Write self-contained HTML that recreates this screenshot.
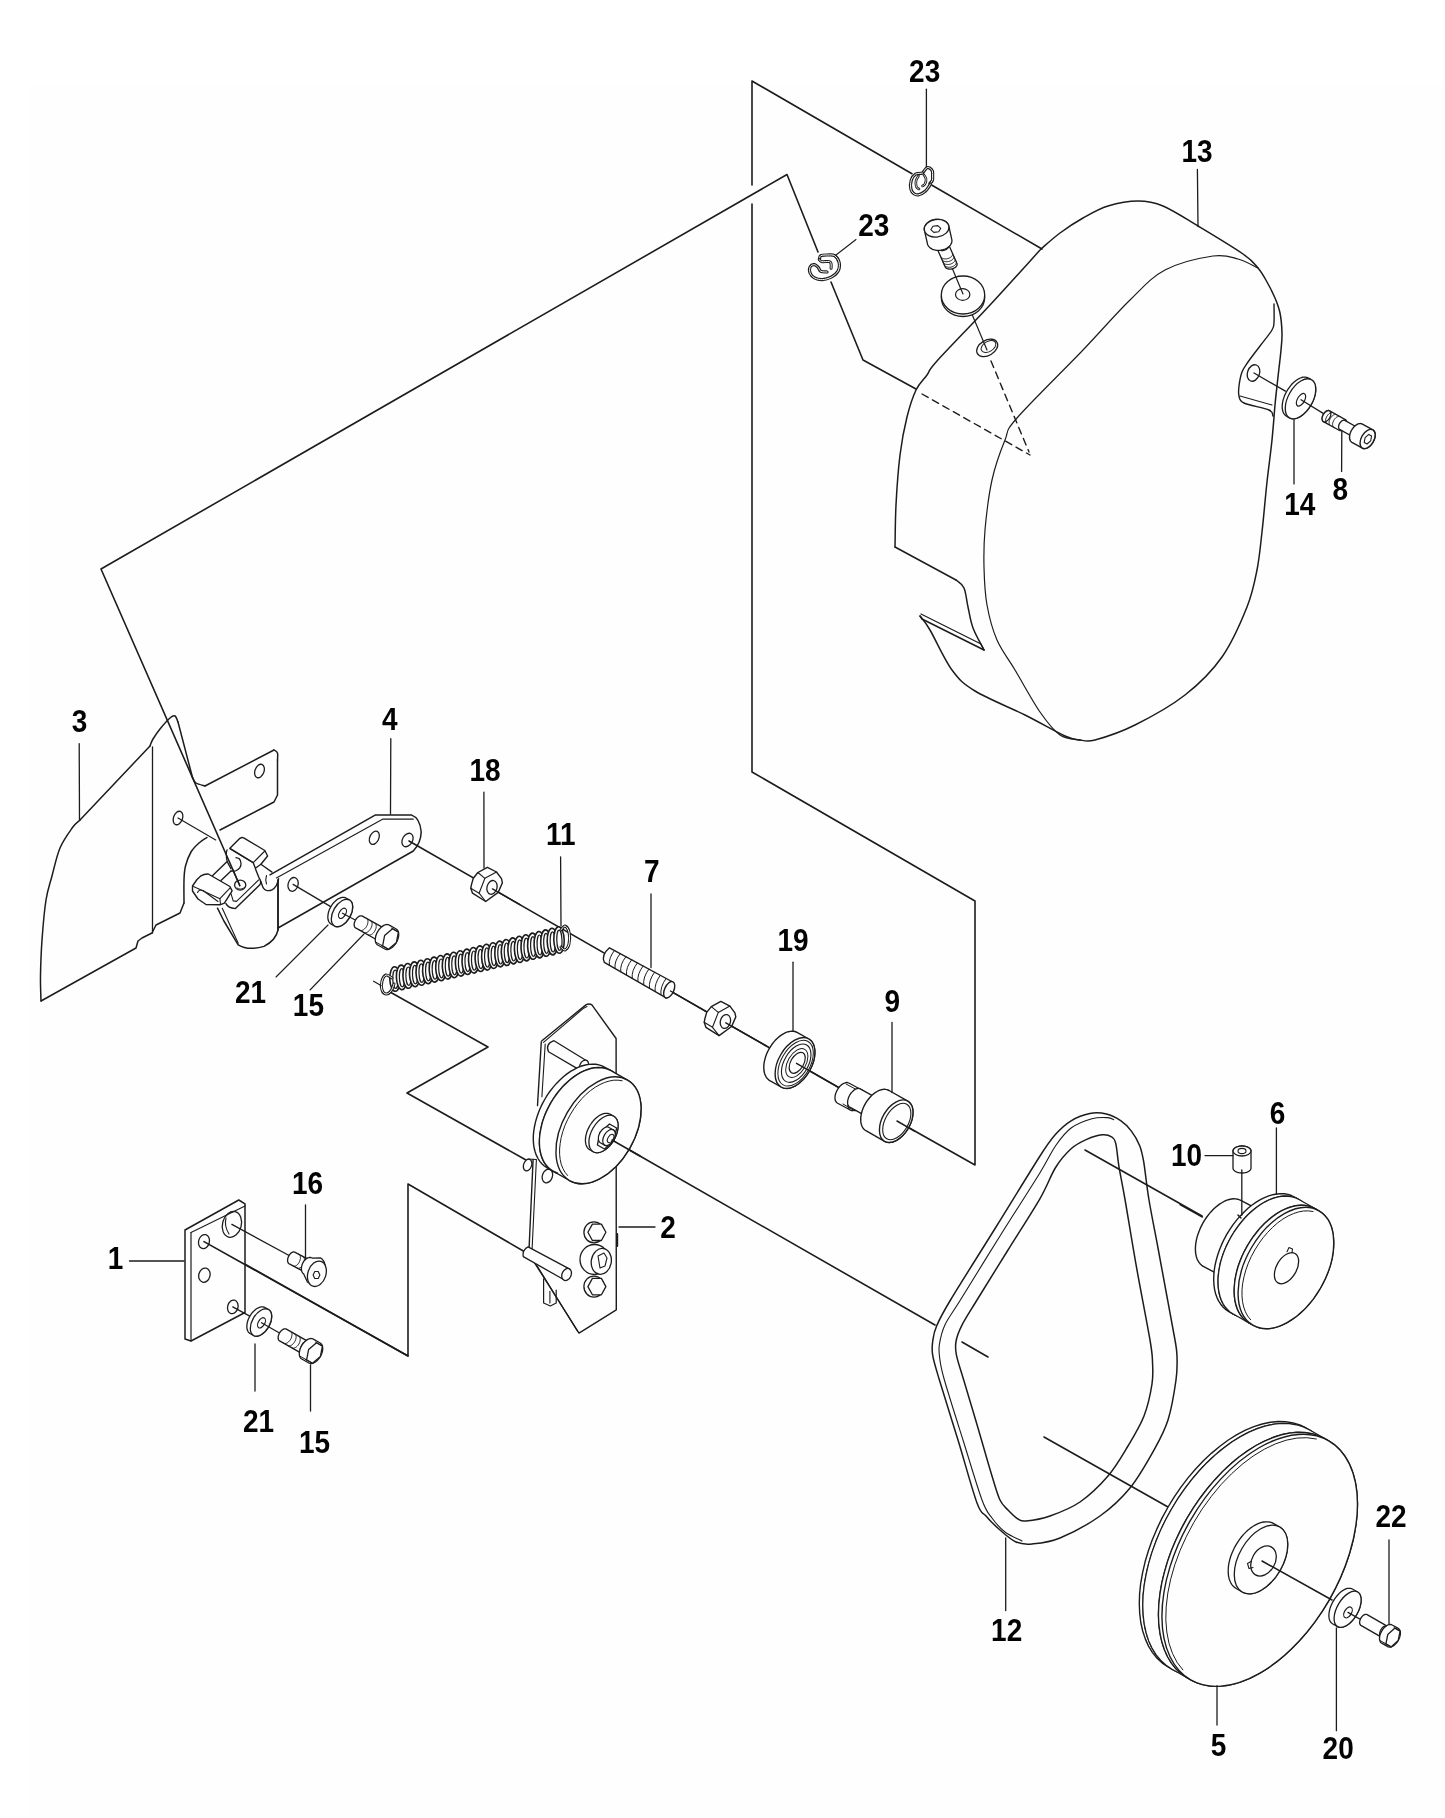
<!DOCTYPE html>
<html><head><meta charset="utf-8"><style>
html,body{margin:0;padding:0;background:#fff;}
svg{display:block}
</style></head><body>
<svg width="1445" height="1818" viewBox="0 0 1445 1818">
<rect x="0" y="0" width="1445" height="1818" fill="#ffffff"/>
<rect x="30" y="85" width="1415" height="1733" fill="#fefefe"/>
<g fill="none" stroke="#1c1c1c" stroke-linejoin="round" stroke-linecap="round">
<polyline points="1042,249 932,185.3" stroke-width="1.6" fill="none"/>
<polyline points="912,173.7 752,81 752,185" stroke-width="1.6" fill="none"/>
<polyline points="752,204 752,772 975,901 975,1165 897,1121" stroke-width="1.6" fill="none"/>
<polyline points="916,389 863,360 831,282" stroke-width="1.6" fill="none"/>
<polyline points="818,252 787,174.5 101,569 240,886" stroke-width="1.6" fill="none"/>
<polyline points="390,992 488,1047 407,1093 526,1160" stroke-width="1.6" fill="none"/>
<polyline points="525,1252 408,1184 408,1356 204,1241" stroke-width="1.6" fill="none"/>
<polyline points="612,1140 935,1325" stroke-width="1.6" fill="none"/>
<polyline points="962,1342 988,1357" stroke-width="1.6" fill="none"/>
<polyline points="1085,1150 1202,1216" stroke-width="1.6" fill="none"/>
<polyline points="1044,1437 1168,1507" stroke-width="1.6" fill="none"/>
<polyline points="409,841 897,1121" stroke-width="1.6" fill="none"/>
<path d="M1041,249 C1032.5,258.3 1007.3,286.3 990,305 C972.7,323.7 947.5,349.3 937,361 C926.5,372.7 930.5,370.2 927,375 C923.5,379.8 919.3,383 916,390 C912.7,397 909.7,406.2 907,417 C904.3,427.8 901.8,440.3 900,455 C898.2,469.7 896.8,489.7 896,505 C895.2,520.3 895.2,540 895,547" stroke-width="1.5" fill="none"/>
<polyline points="895,547 956,580" stroke-width="1.5" fill="none"/>
<path d="M956,580 C957.3,581.3 962,583.5 964,588 C966,592.5 966.5,600.3 968,607 C969.5,613.7 970.3,620.8 973,628 C975.7,635.2 982.2,646.3 984,650" stroke-width="1.5" fill="none"/>
<polyline points="984,650 922,619 920,616" stroke-width="1.5" fill="none"/>
<polyline points="921,614 981,644 984,650" stroke-width="1.2" fill="none"/>
<path d="M920,616 C921.7,618.3 924.7,621 930,630 C935.3,639 944.5,659.8 952,670 C959.5,680.2 962.8,683.5 975,691 C987.2,698.5 1010,707.5 1025,715 C1040,722.5 1055.8,731.8 1065,736 C1074.2,740.2 1077.5,739.3 1080,740" stroke-width="1.5" fill="none"/>
<path d="M1080,740 C1082.5,740 1085.8,742.5 1095,740 C1104.2,737.5 1120,732.5 1135,725 C1150,717.5 1170.5,706.3 1185,695 C1199.5,683.7 1211.7,671.7 1222,657 C1232.3,642.3 1241.2,621.5 1247,607 C1252.8,592.5 1254.5,582.5 1257,570 C1259.5,557.5 1260.3,546.7 1262,532 C1263.7,517.3 1265.3,497.3 1267,482 C1268.7,466.7 1270.7,452.8 1272,440 C1273.3,427.2 1274.2,414 1275,405 C1275.8,396 1276.3,392.2 1277,386 C1277.7,379.8 1278.3,374 1279,368 C1279.7,362 1280.5,355.8 1281,350 C1281.5,344.2 1282.2,339.2 1282,333 C1281.8,326.8 1281.2,318.8 1280,313 C1278.8,307.2 1277.2,303.2 1275,298 C1272.8,292.8 1269.8,287 1267,282 C1264.2,277 1262,272.7 1258,268 C1254,263.3 1253,261 1243,254 C1233,247 1211.3,234 1198,226 C1184.7,218 1173,210.2 1163,206 C1153,201.8 1147.2,201 1138,201 C1128.8,201 1117.2,203.2 1108,206 C1098.8,208.8 1091,213.5 1083,218 C1075,222.5 1067,227.8 1060,233 C1053,238.2 1044.2,246.3 1041,249" stroke-width="1.5" fill="none"/>
<path d="M1258,268 C1254.7,266.5 1245.5,261 1238,259 C1230.5,257 1225.2,254.2 1213,256 C1200.8,257.8 1178.8,262.7 1165,270 C1151.2,277.3 1143.7,286.7 1130,300 C1116.3,313.3 1101.8,330.3 1083,350 C1064.2,369.7 1030,403 1017,418 C1004,433 1009.2,429.7 1005,440 C1000.8,450.3 995.3,465 992,480 C988.7,495 986.3,515.5 985,530 C983.7,544.5 983.7,554.5 984,567 C984.3,579.5 984.8,592.8 987,605 C989.2,617.2 992.3,629.2 997,640 C1001.7,650.8 1007.8,658 1015,670 C1022.2,682 1032.5,701.2 1040,712 C1047.5,722.8 1053.3,730.3 1060,735 C1066.7,739.7 1076.7,739.2 1080,740" stroke-width="1.2" fill="none"/>
<path d="M1274,304 C1274,307 1274.3,317.7 1274,322 C1273.7,326.3 1274.3,326 1272,330 C1269.7,334 1264,340.7 1260,346 C1256,351.3 1251,357.7 1248,362 C1245,366.3 1243.5,368 1242,372 C1240.5,376 1239.5,382 1239,386 C1238.5,390 1238.2,393.2 1239,396 C1239.8,398.8 1239,400.7 1244,403 C1249,405.3 1264.2,407.8 1269,410 C1273.8,412.2 1272.3,415 1273,416" stroke-width="1.4" fill="none"/>
<polyline points="1240,396 1272,405" stroke-width="1.2" fill="none"/>
<ellipse cx="1253.5" cy="373" rx="6" ry="8.5" transform="rotate(20 1253.5 373)" stroke-width="1.3" fill="none" />
<line x1="922" y1="394" x2="1030" y2="455" stroke-width="1.4" stroke-dasharray="7 5"/>
<line x1="991" y1="361" x2="1029" y2="452" stroke-width="1.4" stroke-dasharray="7 5"/>
<ellipse cx="987.2" cy="347.9" rx="11.3" ry="7.6" transform="rotate(-30 987.2 347.9)" stroke-width="1.3" fill="#fefefe" />
<ellipse cx="988.5" cy="346.5" rx="8" ry="5" transform="rotate(-30 988.5 346.5)" stroke-width="1.0" fill="none" />
<polyline points="971.5,313 987,350" stroke-width="1.2" fill="none"/>
<ellipse cx="963" cy="297.5" rx="21.7" ry="19" stroke-width="1.3" fill="#fefefe" />
<ellipse cx="963" cy="295" rx="21.7" ry="19" stroke-width="1.3" fill="#fefefe" />
<ellipse cx="962.7" cy="294.5" rx="7.2" ry="5.8" stroke-width="1.2" fill="none" />
<polyline points="952.3,268.4 963,294" stroke-width="1.2" fill="none"/>
<polygon points="956.8,263.1 957,263.4 957.1,263.7 957.1,264.1 957.1,264.4 957.1,264.8 957,265.1 956.8,265.5 956.7,265.8 956.4,266.2 956.2,266.5 955.9,266.9 955.5,267.2 955.2,267.5 954.8,267.7 954.3,268 953.9,268.2 953.4,268.4 952.9,268.6 952.4,268.8 951.8,268.9 951.3,269 950.8,269.1 950.2,269.1 949.7,269.1 949.2,269.1 948.7,269 948.2,268.9 947.7,268.8 947.3,268.7 946.9,268.5 946.5,268.3 946.2,268.1 945.9,267.8 945.6,267.5 945.4,267.3 945.2,266.9 937,248.4 936.8,248.1 936.7,247.8 936.7,247.4 936.7,247.1 936.7,246.7 936.8,246.4 937,246 937.1,245.7 937.4,245.3 937.6,245 937.9,244.6 938.3,244.3 938.6,244 939,243.8 939.5,243.5 939.9,243.3 940.4,243.1 940.9,242.9 941.4,242.7 942,242.6 942.5,242.5 943,242.4 943.6,242.4 944.1,242.4 944.6,242.4 945.1,242.5 945.6,242.6 946.1,242.7 946.5,242.8 946.9,243 947.3,243.2 947.6,243.4 947.9,243.7 948.2,244 948.4,244.2 948.6,244.6" stroke-width="1.3" fill="#fefefe"/>
<ellipse cx="942.8" cy="246.5" rx="6.2" ry="4" transform="rotate(-12 942.8 246.5)" stroke-width="1.3" fill="#fefefe" />
<polyline points="952.6,253.5 952.6,254.1 952.6,254.6 952.4,255.1 952.2,255.7 951.8,256.2 951.4,256.7 950.8,257.1 950.2,257.6 949.6,257.9 948.9,258.3 948.1,258.5 947.3,258.7 946.5,258.9 945.7,258.9 944.9,258.9 944.2,258.9 943.5,258.7 942.8,258.5 942.2,258.2 941.7,257.9 941.2,257.5 940.8,257.1 940.6,256.6 940.4,256.1" stroke-width="1.0" fill="none"/>
<polyline points="953.8,256.3 953.8,256.8 953.8,257.4 953.6,257.9 953.4,258.4 953,259 952.6,259.5 952.1,259.9 951.5,260.3 950.8,260.7 950.1,261 949.3,261.3 948.6,261.5 947.8,261.6 947,261.7 946.2,261.7 945.4,261.6 944.7,261.5 944,261.3 943.4,261 942.9,260.7 942.4,260.3 942.1,259.9 941.8,259.4 941.7,258.9" stroke-width="1.0" fill="none"/>
<polyline points="955,259.1 955.1,259.6 955,260.1 954.9,260.7 954.6,261.2 954.3,261.7 953.8,262.2 953.3,262.7 952.7,263.1 952,263.5 951.3,263.8 950.6,264.1 949.8,264.3 949,264.4 948.2,264.5 947.4,264.5 946.6,264.4 945.9,264.3 945.2,264.1 944.6,263.8 944.1,263.4 943.7,263.1 943.3,262.6 943,262.2 942.9,261.7" stroke-width="1.0" fill="none"/>
<polyline points="956.2,261.9 956.3,262.4 956.3,262.9 956.1,263.5 955.8,264 955.5,264.5 955.1,265 954.5,265.5 953.9,265.9 953.3,266.3 952.6,266.6 951.8,266.9 951,267.1 950.2,267.2 949.4,267.3 948.6,267.3 947.9,267.2 947.1,267 946.5,266.8 945.9,266.6 945.3,266.2 944.9,265.8 944.5,265.4 944.3,264.9 944.1,264.4" stroke-width="1.0" fill="none"/>
<polygon points="951.7,239 951.9,239.8 951.9,240.5 951.9,241.3 951.8,242.1 951.6,242.9 951.2,243.6 950.8,244.4 950.4,245.1 949.8,245.8 949.1,246.4 948.4,247.1 947.6,247.6 946.8,248.2 945.9,248.7 945,249.1 944,249.5 942.9,249.8 941.9,250 940.8,250.2 939.7,250.3 938.7,250.4 937.6,250.4 936.6,250.3 935.5,250.1 934.5,249.9 933.6,249.6 932.6,249.3 931.8,248.9 931,248.4 930.2,247.9 929.6,247.4 929,246.7 928.5,246.1 928.1,245.4 927.7,244.7 927.5,244 924.5,230.7 924.3,229.9 924.3,229.2 924.3,228.4 924.4,227.6 924.6,226.8 925,226.1 925.4,225.3 925.8,224.6 926.4,223.9 927.1,223.3 927.8,222.6 928.6,222.1 929.4,221.5 930.3,221 931.2,220.6 932.2,220.2 933.3,219.9 934.3,219.7 935.4,219.5 936.5,219.4 937.5,219.3 938.6,219.3 939.6,219.4 940.7,219.6 941.7,219.8 942.6,220.1 943.6,220.4 944.4,220.8 945.2,221.3 946,221.8 946.6,222.3 947.2,223 947.7,223.6 948.1,224.3 948.5,225 948.7,225.7" stroke-width="1.3" fill="#fefefe"/>
<ellipse cx="936.6" cy="228.2" rx="12.4" ry="8.8" transform="rotate(-8 936.6 228.2)" stroke-width="1.3" fill="#fefefe" />
<polygon points="940.8,228.3 938.7,231.7 933.8,232.4 930.8,229.7 932.9,226.3 937.8,225.6" stroke-width="1.1" fill="#fefefe"/>
<path d="M923,172.6 C923.6,171.8 925.4,168.8 926.5,168 C927.6,167.2 928.6,167.5 929.6,168 C930.6,168.5 931.9,169.8 932.4,171.1 C932.9,172.4 932.6,174.4 932.6,176 C932.6,177.6 932.9,179.2 932.4,180.4 C931.9,181.7 930.3,183 929.9,183.5" stroke-width="3.2" fill="none"/>
<path d="M923,172.6 C923.6,171.8 925.4,168.8 926.5,168 C927.6,167.2 928.6,167.5 929.6,168 C930.6,168.5 931.9,169.8 932.4,171.1 C932.9,172.4 932.6,174.4 932.6,176 C932.6,177.6 932.9,179.2 932.4,180.4 C931.9,181.7 930.3,183 929.9,183.5" stroke-width="1.0" stroke="#fefefe" fill="none"/>
<path d="M922.5,173.2 C921.4,173.4 917.5,173 915.6,174.2 C913.7,175.4 912,177.9 911.2,180.4 C910.4,182.9 910.4,187 910.9,189.2 C911.4,191.4 912.7,192.9 914,193.8 C915.3,194.7 916.9,195.2 918.7,194.8 C920.5,194.4 923.1,193.1 924.9,191.6 C926.7,190.1 928.4,187.3 929.3,186 C930.2,184.7 930.3,184.3 930.5,184" stroke-width="3.2" fill="none"/>
<path d="M922.5,173.2 C921.4,173.4 917.5,173 915.6,174.2 C913.7,175.4 912,177.9 911.2,180.4 C910.4,182.9 910.4,187 910.9,189.2 C911.4,191.4 912.7,192.9 914,193.8 C915.3,194.7 916.9,195.2 918.7,194.8 C920.5,194.4 923.1,193.1 924.9,191.6 C926.7,190.1 928.4,187.3 929.3,186 C930.2,184.7 930.3,184.3 930.5,184" stroke-width="1.0" stroke="#fefefe" fill="none"/>
<path d="M918.5,176 C918.1,176.8 916.3,179.2 916,181 C915.7,182.8 916,185.7 916.5,187 C917,188.3 918.6,188.7 919,189" stroke-width="2.6" fill="none"/>
<path d="M918.5,176 C918.1,176.8 916.3,179.2 916,181 C915.7,182.8 916,185.7 916.5,187 C917,188.3 918.6,188.7 919,189" stroke-width="0.8" stroke="#fefefe" fill="none"/>
<path d="M924,175 C924.3,175.7 925.8,177.5 926,179 C926.2,180.5 925.6,182.8 925,184 C924.4,185.2 922.9,185.7 922.5,186" stroke-width="2.6" fill="none"/>
<path d="M924,175 C924.3,175.7 925.8,177.5 926,179 C926.2,180.5 925.6,182.8 925,184 C924.4,185.2 922.9,185.7 922.5,186" stroke-width="0.8" stroke="#fefefe" fill="none"/>
<path d="M819.4,259.5 C819.6,258.9 819.4,256.4 820.8,255.7 C822.2,254.9 825.4,255 827.7,255 C830,255 832.7,254.5 834.6,255.7 C836.5,256.9 838.5,259.8 839.1,262.3 C839.7,264.9 839.4,268.5 838.1,271 C836.8,273.5 833.7,275.8 831.1,277.2 C828.5,278.6 825.3,279.5 822.5,279.6 C819.7,279.7 816.6,279 814.5,277.9 C812.4,276.8 810.7,274.6 810,272.7 C809.3,270.8 809.6,267.8 810.4,266.5 C811.1,265.2 813.2,264.5 814.5,264.7 C815.8,264.9 817.2,266.4 818.3,267.5 C819.3,268.6 819.3,270.6 820.8,271.3 C822.2,272.1 826,271.9 827,272" stroke-width="3.2" fill="none"/>
<path d="M819.4,259.5 C819.6,258.9 819.4,256.4 820.8,255.7 C822.2,254.9 825.4,255 827.7,255 C830,255 832.7,254.5 834.6,255.7 C836.5,256.9 838.5,259.8 839.1,262.3 C839.7,264.9 839.4,268.5 838.1,271 C836.8,273.5 833.7,275.8 831.1,277.2 C828.5,278.6 825.3,279.5 822.5,279.6 C819.7,279.7 816.6,279 814.5,277.9 C812.4,276.8 810.7,274.6 810,272.7 C809.3,270.8 809.6,267.8 810.4,266.5 C811.1,265.2 813.2,264.5 814.5,264.7 C815.8,264.9 817.2,266.4 818.3,267.5 C819.3,268.6 819.3,270.6 820.8,271.3 C822.2,272.1 826,271.9 827,272" stroke-width="1.0" stroke="#fefefe" fill="none"/>
<path d="M819.4,259.5 C819.8,259.9 819.8,261.2 821.5,261.6 C823.2,262 827.8,261.2 829.4,261.6 C831,262 830.8,262.9 831.1,264 C831.4,265.1 831.1,267.5 831.1,268.2" stroke-width="3.0" fill="none"/>
<path d="M819.4,259.5 C819.8,259.9 819.8,261.2 821.5,261.6 C823.2,262 827.8,261.2 829.4,261.6 C831,262 830.8,262.9 831.1,264 C831.4,265.1 831.1,267.5 831.1,268.2" stroke-width="1.0" stroke="#fefefe" fill="none"/>
<polygon points="1286.5,416.1 1285.6,415.5 1284.8,414.8 1284.1,413.9 1283.5,412.9 1283,411.8 1282.6,410.5 1282.4,409.2 1282.2,407.8 1282.2,406.2 1282.3,404.7 1282.5,403 1282.8,401.3 1283.2,399.6 1283.8,397.9 1284.4,396.1 1285.1,394.4 1286,392.7 1286.9,391 1287.9,389.3 1289,387.8 1290.1,386.3 1291.3,384.8 1292.5,383.5 1293.8,382.3 1295.1,381.2 1296.4,380.2 1297.8,379.3 1299.1,378.6 1300.4,378 1301.7,377.5 1303,377.2 1304.2,377.1 1305.3,377.1 1306.5,377.3 1307.5,377.6 1308.5,378 1311.5,379.7 1312.4,380.4 1313.2,381.1 1313.9,382 1314.5,383 1314.9,384.1 1315.3,385.4 1315.6,386.7 1315.7,388.1 1315.7,389.6 1315.7,391.2 1315.5,392.9 1315.2,394.6 1314.7,396.3 1314.2,398 1313.6,399.8 1312.8,401.5 1312,403.2 1311.1,404.9 1310.1,406.5 1309,408.1 1307.9,409.6 1306.7,411 1305.4,412.4 1304.2,413.6 1302.8,414.7 1301.5,415.7 1300.2,416.6 1298.9,417.3 1297.5,417.9 1296.3,418.4 1295,418.6 1293.8,418.8 1292.6,418.8 1291.5,418.6 1290.5,418.3 1289.5,417.9" stroke-width="1.3" fill="#fefefe"/>
<ellipse cx="1300.5" cy="398.8" rx="12.2" ry="22" transform="rotate(30 1300.5 398.8)" stroke-width="1.3" fill="#fefefe" />
<ellipse cx="1301" cy="399.8" rx="3.6" ry="7" transform="rotate(30 1301 399.8)" stroke-width="1.2" fill="none" />
<polyline points="1254,373 1285.4,391.1" stroke-width="1.3" fill="none"/>
<polyline points="1301,399.8 1324.8,414.4" stroke-width="1.3" fill="none"/>
<polygon points="1323.4,421.6 1323.1,421.4 1322.9,421.2 1322.7,420.9 1322.5,420.6 1322.4,420.3 1322.3,419.9 1322.2,419.6 1322.1,419.2 1322.1,418.7 1322.1,418.3 1322.2,417.8 1322.2,417.3 1322.4,416.8 1322.5,416.3 1322.7,415.9 1322.9,415.4 1323.1,414.9 1323.4,414.4 1323.7,413.9 1324,413.5 1324.3,413.1 1324.6,412.7 1325,412.3 1325.3,412 1325.7,411.6 1326.1,411.4 1326.5,411.1 1326.9,410.9 1327.3,410.8 1327.6,410.7 1328,410.6 1328.3,410.5 1328.7,410.5 1329,410.6 1329.3,410.7 1329.6,410.8 1345.3,419.6 1345.6,419.7 1345.8,420 1346,420.2 1346.2,420.5 1346.4,420.8 1346.5,421.2 1346.6,421.6 1346.6,422 1346.6,422.4 1346.6,422.9 1346.6,423.3 1346.5,423.8 1346.4,424.3 1346.2,424.8 1346.1,425.3 1345.9,425.8 1345.6,426.3 1345.4,426.7 1345.1,427.2 1344.8,427.6 1344.5,428.1 1344.1,428.5 1343.8,428.8 1343.4,429.2 1343,429.5 1342.6,429.8 1342.3,430 1341.9,430.2 1341.5,430.4 1341.1,430.5 1340.8,430.6 1340.4,430.6 1340.1,430.6 1339.7,430.5 1339.4,430.4 1339.1,430.3" stroke-width="1.3" fill="#fefefe"/>
<ellipse cx="1326.5" cy="416.2" rx="3.6" ry="6.2" transform="rotate(30 1326.5 416.2)" stroke-width="1.3" fill="#fefefe" />
<polyline points="1326.9,423.5 1326.5,423.2 1326.2,422.9 1325.9,422.4 1325.8,421.9 1325.6,421.3 1325.6,420.7 1325.6,420 1325.7,419.3 1325.9,418.5 1326.2,417.8 1326.5,417.1 1326.9,416.3 1327.3,415.7 1327.8,415 1328.3,414.4 1328.8,413.9 1329.4,413.4 1330,413.1 1330.6,412.8 1331.1,412.6 1331.7,412.5 1332.2,412.5 1332.7,412.6 1333.1,412.8" stroke-width="1.0" fill="none"/>
<polyline points="1330.4,425.4 1330,425.2 1329.7,424.8 1329.4,424.4 1329.3,423.8 1329.1,423.2 1329.1,422.6 1329.1,421.9 1329.2,421.2 1329.4,420.5 1329.7,419.7 1330,419 1330.4,418.3 1330.8,417.6 1331.3,417 1331.8,416.4 1332.3,415.8 1332.9,415.4 1333.5,415 1334.1,414.7 1334.6,414.5 1335.2,414.4 1335.7,414.4 1336.2,414.5 1336.6,414.7" stroke-width="1.0" fill="none"/>
<polyline points="1333.9,427.4 1333.5,427.1 1333.2,426.7 1332.9,426.3 1332.8,425.8 1332.6,425.2 1332.6,424.5 1332.6,423.9 1332.7,423.1 1332.9,422.4 1333.2,421.7 1333.5,420.9 1333.9,420.2 1334.3,419.5 1334.8,418.9 1335.3,418.3 1335.8,417.8 1336.4,417.3 1337,416.9 1337.6,416.7 1338.1,416.5 1338.7,416.4 1339.2,416.4 1339.7,416.5 1340.1,416.6" stroke-width="1.0" fill="none"/>
<polygon points="1339.6,429.4 1339.4,429.3 1339.2,429.1 1339.1,428.9 1338.9,428.6 1338.8,428.4 1338.7,428.1 1338.6,427.8 1338.6,427.4 1338.6,427.1 1338.6,426.7 1338.6,426.3 1338.7,425.9 1338.8,425.5 1338.9,425.1 1339.1,424.6 1339.2,424.2 1339.4,423.8 1339.6,423.4 1339.9,423 1340.1,422.7 1340.4,422.3 1340.7,422 1341,421.7 1341.3,421.4 1341.6,421.1 1341.9,420.9 1342.2,420.7 1342.6,420.5 1342.9,420.4 1343.2,420.3 1343.5,420.2 1343.8,420.2 1344.1,420.2 1344.4,420.2 1344.6,420.3 1344.8,420.4 1359.7,428.7 1359.9,428.8 1360.1,429 1360.3,429.2 1360.4,429.4 1360.6,429.7 1360.7,430 1360.7,430.3 1360.8,430.7 1360.8,431 1360.8,431.4 1360.7,431.8 1360.7,432.2 1360.6,432.6 1360.4,433 1360.3,433.5 1360.1,433.9 1359.9,434.3 1359.7,434.7 1359.5,435.1 1359.2,435.4 1358.9,435.8 1358.7,436.1 1358.4,436.4 1358.1,436.7 1357.7,437 1357.4,437.2 1357.1,437.4 1356.8,437.6 1356.5,437.7 1356.2,437.8 1355.9,437.9 1355.6,437.9 1355.3,437.9 1355,437.9 1354.7,437.8 1354.5,437.7" stroke-width="1.3" fill="#fefefe"/>
<polygon points="1351.9,442.3 1351.4,442 1351,441.6 1350.6,441.1 1350.3,440.6 1350,440.1 1349.8,439.5 1349.7,438.8 1349.6,438.1 1349.5,437.4 1349.6,436.6 1349.6,435.8 1349.8,435 1349.9,434.2 1350.2,433.3 1350.5,432.5 1350.8,431.6 1351.2,430.8 1351.7,430 1352.1,429.2 1352.7,428.5 1353.2,427.8 1353.8,427.1 1354.4,426.5 1355,425.9 1355.7,425.4 1356.3,424.9 1357,424.5 1357.6,424.2 1358.3,423.9 1358.9,423.7 1359.6,423.6 1360.2,423.5 1360.8,423.6 1361.3,423.7 1361.9,423.8 1362.4,424.1 1372.9,429.9 1373.3,430.2 1373.7,430.6 1374.1,431 1374.4,431.5 1374.7,432.1 1374.9,432.7 1375,433.3 1375.1,434 1375.2,434.8 1375.2,435.6 1375.1,436.4 1375,437.2 1374.8,438 1374.5,438.8 1374.2,439.7 1373.9,440.5 1373.5,441.3 1373.1,442.1 1372.6,442.9 1372.1,443.7 1371.5,444.4 1370.9,445.1 1370.3,445.7 1369.7,446.3 1369.1,446.8 1368.4,447.2 1367.8,447.6 1367.1,448 1366.4,448.2 1365.8,448.4 1365.2,448.6 1364.5,448.6 1363.9,448.6 1363.4,448.5 1362.9,448.3 1362.4,448.1" stroke-width="1.4" fill="#fefefe"/>
<ellipse cx="1367.6" cy="439" rx="6.3" ry="10.5" transform="rotate(30 1367.6 439)" stroke-width="1.4" fill="#fefefe" />
<polygon points="1370.7,440.8 1367,444 1364.2,442.4 1365.1,437.6 1368.8,434.4 1371.6,436" stroke-width="1.1" fill="#fefefe"/>
<path d="M80,820 C78.8,821.2 75.8,822.8 72.5,827.5 C69.2,832.2 63.4,839.9 60,848 C56.6,856.1 54.3,867.3 52,876 C49.7,884.7 47.7,889.3 46,900 C44.3,910.7 42.9,927.5 42,940 C41.1,952.5 40.7,964.8 40.5,975 C40.3,985.2 40.9,996.7 41,1001" stroke-width="1.5" fill="none"/>
<polyline points="41,1001 136,948 138,941 142,938 152,933 156,925 180,913 184,903" stroke-width="1.5" fill="none"/>
<path d="M184,903 C184,899.2 183.8,886.2 184,880 C184.2,873.8 184.3,870.7 185.5,866 C186.7,861.3 188.8,855.8 191,852 C193.2,848.2 196.3,845.4 199,843 C201.7,840.6 205.7,838.4 207,837.5" stroke-width="1.5" fill="none"/>
<polyline points="80,820 150,746" stroke-width="1.5" fill="none"/>
<path d="M150,746 C150.5,744.8 151.3,741.8 153,739 C154.7,736.2 157.2,732.5 160,729 C162.8,725.5 167.5,720.2 170,718 C172.5,715.8 173.7,715.3 175,716 C176.3,716.7 177.5,721 178,722" stroke-width="1.5" fill="none"/>
<polyline points="178,722 192.5,777.5" stroke-width="1.5" fill="none"/>
<path d="M192.5,777.5 C193.1,778.4 193.9,781.6 196,783 C198.1,784.4 203.5,785.5 205,786" stroke-width="1.5" fill="none"/>
<polyline points="205,786 274,750" stroke-width="1.5" fill="none"/>
<path d="M274,750 C274.6,750.5 276.9,751.3 277.5,753 C278.1,754.7 277.5,758.8 277.5,760" stroke-width="1.5" fill="none"/>
<polyline points="277.5,760 277.5,795 274,802 220,830" stroke-width="1.5" fill="none"/>
<polyline points="152.5,747 152.5,933" stroke-width="1.3" fill="none"/>
<ellipse cx="259.5" cy="771" rx="4.5" ry="7" transform="rotate(20 259.5 771)" stroke-width="1.3" fill="none" />
<ellipse cx="178" cy="818" rx="4.5" ry="7" transform="rotate(20 178 818)" stroke-width="1.3" fill="none" />
<polyline points="178,818 215.7,839.9" stroke-width="1.2" fill="none"/>
<path d="M278,880 L278,930 Q276,940 264,946.4 Q248,951 238.2,944.8 L223.9,921 L217.5,908.2" stroke-width="1.5" fill="none" />
<polyline points="222.3,908.2 238.2,943.2" stroke-width="1.1" fill="none"/>
<path d="M270,874.8 L375.1,815.1 L411.7,815.1 Q420,818 421.2,831.8 Q421,843 413.3,851 L278,928" stroke-width="1.5" fill="none" />
<polyline points="276.4,878 383,819.1 413.3,819.1" stroke-width="1.1" fill="none"/>
<polyline points="278,880 278,930" stroke-width="1.5" fill="none"/>
<ellipse cx="374.3" cy="837.8" rx="4.5" ry="7" transform="rotate(25 374.3 837.8)" stroke-width="1.3" fill="none" />
<ellipse cx="407.5" cy="840" rx="5" ry="7.2" transform="rotate(30 407.5 840)" stroke-width="1.3" fill="none" />
<ellipse cx="293.1" cy="884.4" rx="5" ry="7" transform="rotate(15 293.1 884.4)" stroke-width="1.3" fill="none" />
<path d="M226,903.6 Q228,908 235.4,908.6 L259.8,884.8 Q262,882 258.7,877.1 L255.4,868.8" stroke-width="1.4" fill="#fefefe" />
<polyline points="231,893.7 233.2,900.9 236.5,901.4 258.7,879.8" stroke-width="1.1" fill="none"/>
<path d="M227.1,849.9 C227,850.5 226.3,851.4 226.3,853.3 C226.3,855.1 226.3,858.4 227.1,861 C227.9,863.6 230.3,867.5 231,868.8" stroke-width="1.3" fill="none"/>
<path d="M236,857.7 C236.6,857.9 238.5,857.9 239.3,858.8 C240.1,859.7 240.9,861.7 241,863.2 C241.1,864.7 240.8,866.4 239.9,867.7 C239,869 236.9,870.5 235.4,871 C233.9,871.5 231.7,871 231,871" stroke-width="1.3" fill="none"/>
<polyline points="212.7,875.4 226.6,862.1" stroke-width="1.4" fill="none"/>
<polyline points="221,880.4 231,871" stroke-width="1.4" fill="none"/>
<ellipse cx="240.2" cy="885.1" rx="5.6" ry="5" stroke-width="1.3" fill="none" />
<path d="M237,888 Q241,891 245,887" stroke-width="1.0" fill="none" />
<path d="M229.9,848.3 L239.9,838.3 Q242,837 243.7,837.8 L264.8,850.5 L267.6,856 L260.9,864.3 L255.4,868.2 L253.2,862.7 Z" stroke-width="1.4" fill="#fefefe" />
<polyline points="229.9,848.8 253.2,862.7 264.8,851" stroke-width="1.1" fill="none"/>
<polyline points="260.9,864.3 272,872.1" stroke-width="1.3" fill="none"/>
<path d="M192.5,886 L197,879.5 L201,875.8 Q204,873.8 208.3,874 L229.9,886.5 L232.1,890.9 L224.4,903.1 L219.9,904.8 L206,904.5 L198,899 L192.5,891 Z" stroke-width="1.4" fill="#fefefe" />
<polyline points="193.5,886.5 219.9,898.7 229.9,888.1" stroke-width="1.1" fill="none"/>
<polyline points="219.9,898.7 220.5,904.2" stroke-width="1.1" fill="none"/>
<path d="M197.5,892.5 Q199,889 203,890.5 L218,901.5" stroke-width="1.1" fill="none" />
<polyline points="232.5,869 239.5,885" stroke-width="1.3" fill="none"/>
<path d="M260.9,881.5 C261.3,882.5 262.2,886.1 263.1,887.6 C264,889.1 264.9,890 266.4,890.4 C267.9,890.8 270.3,890.6 272,889.8 C273.7,889 275.3,887.2 276.4,885.4 C277.5,883.5 278.2,879.8 278.6,878.7" stroke-width="1.4" fill="none"/>
<path d="M266.5,875.5 Q265,880 266.5,884" stroke-width="1.1" fill="none" />
<polyline points="293.1,884.4 330.7,906.6" stroke-width="1.3" fill="none"/>
<polygon points="331,924 330.4,923.6 329.8,923.1 329.3,922.4 328.9,921.7 328.5,920.9 328.2,920.1 328,919.1 327.9,918.2 327.8,917.1 327.9,916 328,914.9 328.2,913.7 328.4,912.5 328.8,911.3 329.2,910.1 329.7,909 330.3,907.8 330.9,906.6 331.6,905.5 332.3,904.4 333.1,903.4 333.9,902.5 334.8,901.6 335.7,900.7 336.6,900 337.5,899.3 338.4,898.7 339.4,898.3 340.3,897.9 341.2,897.6 342.1,897.4 343,897.3 343.8,897.3 344.6,897.5 345.3,897.7 346,898 349.5,900 350.1,900.4 350.7,901 351.2,901.6 351.7,902.3 352,903.1 352.3,904 352.5,904.9 352.6,905.9 352.7,906.9 352.7,908 352.5,909.2 352.4,910.3 352.1,911.5 351.7,912.7 351.3,913.9 350.8,915.1 350.2,916.3 349.6,917.4 348.9,918.5 348.2,919.6 347.4,920.6 346.6,921.6 345.7,922.5 344.9,923.3 343.9,924.1 343,924.7 342.1,925.3 341.2,925.8 340.2,926.2 339.3,926.5 338.4,926.6 337.6,926.7 336.7,926.7 335.9,926.6 335.2,926.3 334.5,926" stroke-width="1.3" fill="#fefefe"/>
<ellipse cx="342" cy="913" rx="8.8" ry="15" transform="rotate(30 342 913)" stroke-width="1.3" fill="#fefefe" />
<ellipse cx="342.5" cy="913.3" rx="3.2" ry="5.6" transform="rotate(30 342.5 913.3)" stroke-width="1.2" fill="none" />
<polyline points="342.5,913.3 359,922" stroke-width="1.3" fill="none"/>
<polygon points="355.6,927.9 355.3,927.7 355.1,927.5 354.8,927.2 354.6,926.8 354.5,926.5 354.3,926.1 354.2,925.7 354.2,925.2 354.1,924.7 354.2,924.3 354.2,923.7 354.3,923.2 354.4,922.7 354.6,922.1 354.8,921.6 355,921.1 355.3,920.5 355.5,920 355.8,919.5 356.2,919 356.5,918.5 356.9,918.1 357.3,917.7 357.7,917.3 358.1,917 358.5,916.7 359,916.4 359.4,916.2 359.8,916 360.2,915.9 360.6,915.8 361,915.8 361.4,915.8 361.7,915.9 362.1,916 362.4,916.1 384.4,928.4 384.7,928.6 384.9,928.8 385.2,929.1 385.4,929.5 385.5,929.8 385.7,930.2 385.8,930.6 385.8,931.1 385.9,931.6 385.8,932 385.8,932.6 385.7,933.1 385.6,933.6 385.4,934.2 385.2,934.7 385,935.2 384.7,935.8 384.5,936.3 384.2,936.8 383.8,937.3 383.5,937.8 383.1,938.2 382.7,938.6 382.3,939 381.9,939.3 381.5,939.6 381,939.9 380.6,940.1 380.2,940.3 379.8,940.4 379.4,940.5 379,940.5 378.6,940.5 378.3,940.4 377.9,940.3 377.6,940.2" stroke-width="1.3" fill="#fefefe"/>
<ellipse cx="381" cy="934.3" rx="4" ry="6.8" transform="rotate(30 381 934.3)" stroke-width="1.3" fill="#fefefe" />
<polyline points="366.5,918.4 366.9,918.7 367.3,919.1 367.6,919.6 367.8,920.2 367.9,920.9 368,921.6 367.9,922.3 367.8,923.1 367.6,923.9 367.4,924.7 367,925.5 366.6,926.3 366.1,927.1 365.6,927.8 365,928.4 364.4,929 363.8,929.5 363.2,929.9 362.5,930.2 361.9,930.4 361.3,930.5 360.7,930.5 360.2,930.4 359.7,930.2" stroke-width="1.0" fill="none"/>
<polyline points="370.6,920.7 371.1,921 371.4,921.4 371.7,921.9 371.9,922.5 372.1,923.2 372.1,923.9 372.1,924.6 371.9,925.4 371.8,926.2 371.5,927 371.1,927.8 370.7,928.6 370.2,929.4 369.7,930.1 369.1,930.7 368.6,931.3 367.9,931.8 367.3,932.2 366.7,932.5 366,932.7 365.4,932.8 364.9,932.8 364.3,932.7 363.9,932.5" stroke-width="1.0" fill="none"/>
<polyline points="374.8,923 375.2,923.3 375.6,923.7 375.8,924.2 376.1,924.8 376.2,925.5 376.2,926.2 376.2,926.9 376.1,927.7 375.9,928.5 375.6,929.3 375.3,930.1 374.8,930.9 374.4,931.7 373.8,932.4 373.3,933 372.7,933.6 372.1,934.1 371.4,934.5 370.8,934.8 370.2,935 369.6,935.1 369,935.1 368.5,935 368,934.8" stroke-width="1.0" fill="none"/>
<polygon points="377.8,945 377.3,944.7 376.9,944.3 376.5,943.8 376.1,943.3 375.8,942.6 375.6,942 375.4,941.3 375.3,940.5 375.3,939.7 375.3,938.9 375.4,938 375.6,937.1 375.8,936.2 376,935.3 376.4,934.4 376.7,933.4 377.2,932.5 377.6,931.7 378.2,930.8 378.7,930 379.3,929.2 380,928.5 380.6,927.8 381.3,927.1 382,926.6 382.7,926.1 383.4,925.6 384.2,925.2 384.9,925 385.6,924.7 386.3,924.6 386.9,924.5 387.6,924.6 388.2,924.7 388.8,924.8 389.3,925.1 396.2,929 396.7,929.4 397.2,929.8 397.6,930.3 397.9,930.8 398.2,931.4 398.4,932.1 398.6,932.8 398.7,933.6 398.7,934.4 398.7,935.2 398.6,936.1 398.5,937 398.3,937.9 398,938.8 397.7,939.7 397.3,940.6 396.9,941.5 396.4,942.4 395.9,943.3 395.3,944.1 394.7,944.9 394.1,945.6 393.4,946.3 392.7,946.9 392,947.5 391.3,948 390.6,948.4 389.9,948.8 389.2,949.1 388.5,949.3 387.8,949.5 387.1,949.5 386.5,949.5 385.9,949.4 385.3,949.2 384.8,949" stroke-width="1.3" fill="#fefefe"/>
<polygon points="396.4,942.4 388.5,949.3 382.6,945.9 384.6,935.6 392.5,928.7 398.4,932.1" stroke-width="1.3" fill="#fefefe"/>
<polyline points="388.5,949.3 381.5,945.4" stroke-width="1.0" fill="none"/>
<polyline points="382.6,945.9 375.6,942" stroke-width="1.0" fill="none"/>
<polyline points="398.4,932.1 391.5,928.1" stroke-width="1.0" fill="none"/>
<polygon points="473.3,878.3 477.9,872.5 487.4,867.3 496.5,872 501.5,878.7 502.4,882.8 498.2,892.4 485.7,901.5 472.5,893.2 470.8,888.2 471.6,884.1" stroke-width="1.4" fill="#fefefe"/>
<polyline points="477.9,872.5 484.9,878.3 496.5,872" stroke-width="1.1" fill="none"/>
<polyline points="484.9,878.3 479.1,893.2 485.7,901.5" stroke-width="1.1" fill="none"/>
<polyline points="470.8,888.2 479.1,893.2" stroke-width="1.1" fill="none"/>
<ellipse cx="492" cy="887.4" rx="5" ry="7" transform="rotate(15 492 887.4)" stroke-width="1.3" fill="none" />
<polyline points="492.5,888.9 520,904.7" stroke-width="1.4" fill="none"/>
<ellipse cx="395" cy="979" rx="5.2" ry="12.3" transform="rotate(-2 395 979)" stroke-width="1.6" fill="#fefefe" />
<ellipse cx="395.4" cy="979.3" rx="2.6" ry="9.1" transform="rotate(-2 395.4 979.3)" stroke-width="1.2" fill="none" />
<ellipse cx="401.6" cy="977.4" rx="5.2" ry="12.3" transform="rotate(-2 401.6 977.4)" stroke-width="1.6" fill="#fefefe" />
<ellipse cx="402" cy="977.7" rx="2.6" ry="9.1" transform="rotate(-2 402 977.7)" stroke-width="1.2" fill="none" />
<ellipse cx="408.1" cy="975.9" rx="5.2" ry="12.4" transform="rotate(-2 408.1 975.9)" stroke-width="1.6" fill="#fefefe" />
<ellipse cx="408.5" cy="976.2" rx="2.6" ry="9.2" transform="rotate(-2 408.5 976.2)" stroke-width="1.2" fill="none" />
<ellipse cx="414.7" cy="974.3" rx="5.2" ry="12.4" transform="rotate(-2 414.7 974.3)" stroke-width="1.6" fill="#fefefe" />
<ellipse cx="415.1" cy="974.6" rx="2.6" ry="9.2" transform="rotate(-2 415.1 974.6)" stroke-width="1.2" fill="none" />
<ellipse cx="421.2" cy="972.8" rx="5.2" ry="12.5" transform="rotate(-2 421.2 972.8)" stroke-width="1.6" fill="#fefefe" />
<ellipse cx="421.6" cy="973.1" rx="2.6" ry="9.3" transform="rotate(-2 421.6 973.1)" stroke-width="1.2" fill="none" />
<ellipse cx="427.8" cy="971.2" rx="5.2" ry="12.5" transform="rotate(-2 427.8 971.2)" stroke-width="1.6" fill="#fefefe" />
<ellipse cx="428.2" cy="971.5" rx="2.6" ry="9.3" transform="rotate(-2 428.2 971.5)" stroke-width="1.2" fill="none" />
<ellipse cx="434.4" cy="969.6" rx="5.2" ry="12.5" transform="rotate(-2 434.4 969.6)" stroke-width="1.6" fill="#fefefe" />
<ellipse cx="434.8" cy="969.9" rx="2.6" ry="9.3" transform="rotate(-2 434.8 969.9)" stroke-width="1.2" fill="none" />
<ellipse cx="440.9" cy="968.1" rx="5.2" ry="12.6" transform="rotate(-2 440.9 968.1)" stroke-width="1.6" fill="#fefefe" />
<ellipse cx="441.3" cy="968.4" rx="2.6" ry="9.4" transform="rotate(-2 441.3 968.4)" stroke-width="1.2" fill="none" />
<ellipse cx="447.5" cy="966.5" rx="5.2" ry="12.6" transform="rotate(-2 447.5 966.5)" stroke-width="1.6" fill="#fefefe" />
<ellipse cx="447.9" cy="966.8" rx="2.6" ry="9.4" transform="rotate(-2 447.9 966.8)" stroke-width="1.2" fill="none" />
<ellipse cx="454" cy="965" rx="5.2" ry="12.7" transform="rotate(-2 454 965)" stroke-width="1.6" fill="#fefefe" />
<ellipse cx="454.4" cy="965.3" rx="2.6" ry="9.5" transform="rotate(-2 454.4 965.3)" stroke-width="1.2" fill="none" />
<ellipse cx="460.6" cy="963.4" rx="5.2" ry="12.7" transform="rotate(-2 460.6 963.4)" stroke-width="1.6" fill="#fefefe" />
<ellipse cx="461" cy="963.7" rx="2.6" ry="9.5" transform="rotate(-2 461 963.7)" stroke-width="1.2" fill="none" />
<ellipse cx="467.2" cy="961.8" rx="5.2" ry="12.7" transform="rotate(-2 467.2 961.8)" stroke-width="1.6" fill="#fefefe" />
<ellipse cx="467.6" cy="962.1" rx="2.6" ry="9.5" transform="rotate(-2 467.6 962.1)" stroke-width="1.2" fill="none" />
<ellipse cx="473.7" cy="960.3" rx="5.2" ry="12.8" transform="rotate(-2 473.7 960.3)" stroke-width="1.6" fill="#fefefe" />
<ellipse cx="474.1" cy="960.6" rx="2.6" ry="9.6" transform="rotate(-2 474.1 960.6)" stroke-width="1.2" fill="none" />
<ellipse cx="480.3" cy="958.7" rx="5.2" ry="12.8" transform="rotate(-2 480.3 958.7)" stroke-width="1.6" fill="#fefefe" />
<ellipse cx="480.7" cy="959" rx="2.6" ry="9.6" transform="rotate(-2 480.7 959)" stroke-width="1.2" fill="none" />
<ellipse cx="486.8" cy="957.2" rx="5.2" ry="12.9" transform="rotate(-2 486.8 957.2)" stroke-width="1.6" fill="#fefefe" />
<ellipse cx="487.2" cy="957.5" rx="2.6" ry="9.7" transform="rotate(-2 487.2 957.5)" stroke-width="1.2" fill="none" />
<ellipse cx="493.4" cy="955.6" rx="5.2" ry="12.9" transform="rotate(-2 493.4 955.6)" stroke-width="1.6" fill="#fefefe" />
<ellipse cx="493.8" cy="955.9" rx="2.6" ry="9.7" transform="rotate(-2 493.8 955.9)" stroke-width="1.2" fill="none" />
<ellipse cx="500" cy="954" rx="5.2" ry="12.9" transform="rotate(-2 500 954)" stroke-width="1.6" fill="#fefefe" />
<ellipse cx="500.4" cy="954.3" rx="2.6" ry="9.7" transform="rotate(-2 500.4 954.3)" stroke-width="1.2" fill="none" />
<ellipse cx="506.5" cy="952.5" rx="5.2" ry="13" transform="rotate(-2 506.5 952.5)" stroke-width="1.6" fill="#fefefe" />
<ellipse cx="506.9" cy="952.8" rx="2.6" ry="9.8" transform="rotate(-2 506.9 952.8)" stroke-width="1.2" fill="none" />
<ellipse cx="513.1" cy="950.9" rx="5.2" ry="13" transform="rotate(-2 513.1 950.9)" stroke-width="1.6" fill="#fefefe" />
<ellipse cx="513.5" cy="951.2" rx="2.6" ry="9.8" transform="rotate(-2 513.5 951.2)" stroke-width="1.2" fill="none" />
<ellipse cx="519.6" cy="949.4" rx="5.2" ry="13.1" transform="rotate(-2 519.6 949.4)" stroke-width="1.6" fill="#fefefe" />
<ellipse cx="520" cy="949.7" rx="2.6" ry="9.9" transform="rotate(-2 520 949.7)" stroke-width="1.2" fill="none" />
<ellipse cx="526.2" cy="947.8" rx="5.2" ry="13.1" transform="rotate(-2 526.2 947.8)" stroke-width="1.6" fill="#fefefe" />
<ellipse cx="526.6" cy="948.1" rx="2.6" ry="9.9" transform="rotate(-2 526.6 948.1)" stroke-width="1.2" fill="none" />
<ellipse cx="532.8" cy="946.2" rx="5.2" ry="13.1" transform="rotate(-2 532.8 946.2)" stroke-width="1.6" fill="#fefefe" />
<ellipse cx="533.2" cy="946.5" rx="2.6" ry="9.9" transform="rotate(-2 533.2 946.5)" stroke-width="1.2" fill="none" />
<ellipse cx="539.3" cy="944.7" rx="5.2" ry="13.2" transform="rotate(-2 539.3 944.7)" stroke-width="1.6" fill="#fefefe" />
<ellipse cx="539.7" cy="945" rx="2.6" ry="10" transform="rotate(-2 539.7 945)" stroke-width="1.2" fill="none" />
<ellipse cx="545.9" cy="943.1" rx="5.2" ry="13.2" transform="rotate(-2 545.9 943.1)" stroke-width="1.6" fill="#fefefe" />
<ellipse cx="546.3" cy="943.4" rx="2.6" ry="10" transform="rotate(-2 546.3 943.4)" stroke-width="1.2" fill="none" />
<ellipse cx="552.4" cy="941.6" rx="5.2" ry="13.3" transform="rotate(-2 552.4 941.6)" stroke-width="1.6" fill="#fefefe" />
<ellipse cx="552.8" cy="941.9" rx="2.6" ry="10.1" transform="rotate(-2 552.8 941.9)" stroke-width="1.2" fill="none" />
<ellipse cx="559" cy="940" rx="5.2" ry="13.3" transform="rotate(-2 559 940)" stroke-width="1.6" fill="#fefefe" />
<ellipse cx="559.4" cy="940.3" rx="2.6" ry="10.1" transform="rotate(-2 559.4 940.3)" stroke-width="1.2" fill="none" />
<path d="M392,978 C391,977.5 387.7,974.5 386,975 C384.3,975.5 382.7,978.5 382,981 C381.3,983.5 381.3,987.8 382,990 C382.7,992.2 384.5,993.8 386,994 C387.5,994.2 389.7,992.7 391,991 C392.3,989.3 393.5,985.2 394,984" stroke-width="3.0" fill="none"/>
<path d="M392,978 C391,977.5 387.7,974.5 386,975 C384.3,975.5 382.7,978.5 382,981 C381.3,983.5 381.3,987.8 382,990 C382.7,992.2 384.5,993.8 386,994 C387.5,994.2 389.7,992.7 391,991 C392.3,989.3 393.5,985.2 394,984" stroke-width="1.0" stroke="#fefefe" fill="none"/>
<path d="M561,930 C561.7,929.3 563.7,925.7 565,926 C566.3,926.3 568.3,929 569,932 C569.7,935 569.7,941 569,944 C568.3,947 566.3,949.5 565,950 C563.7,950.5 561.7,947.5 561,947" stroke-width="3.0" fill="none"/>
<path d="M561,930 C561.7,929.3 563.7,925.7 565,926 C566.3,926.3 568.3,929 569,932 C569.7,935 569.7,941 569,944 C568.3,947 566.3,949.5 565,950 C563.7,950.5 561.7,947.5 561,947" stroke-width="1.0" stroke="#fefefe" fill="none"/>
<polyline points="373.6,981.2 381,985.6" stroke-width="1.2" fill="none"/>
<path d="M609.5,947.8 L671.8,981.5 L666.6,998.1 L604.3,962.3 Q601,955 609.5,947.8 Z" stroke-width="1.4" fill="#fefefe" />
<path d="M614.5,950.5 Q608.4,957.8 609.3,965.2" stroke-width="1.0" fill="none" />
<path d="M620.2,953.6 Q614.1,961.0 615.0,968.5" stroke-width="1.0" fill="none" />
<path d="M625.9,956.7 Q619.8,964.2 620.7,971.8" stroke-width="1.0" fill="none" />
<path d="M631.7,959.8 Q625.6,967.4 626.5,975.0" stroke-width="1.0" fill="none" />
<path d="M637.4,962.9 Q631.3,970.6 632.2,978.3" stroke-width="1.0" fill="none" />
<path d="M643.1,966.0 Q637.0,973.8 637.9,981.6" stroke-width="1.0" fill="none" />
<path d="M648.9,969.1 Q642.8,977.0 643.7,984.9" stroke-width="1.0" fill="none" />
<path d="M654.6,972.2 Q648.5,980.2 649.4,988.2" stroke-width="1.0" fill="none" />
<path d="M660.3,975.3 Q654.2,983.4 655.1,991.5" stroke-width="1.0" fill="none" />
<path d="M666.1,978.4 Q660.0,986.6 660.9,994.8" stroke-width="1.0" fill="none" />
<ellipse cx="669.2" cy="989.8" rx="4.6" ry="8.8" transform="rotate(25 669.2 989.8)" stroke-width="1.4" fill="#fefefe" />
<polyline points="670.5,991 708,1012.6" stroke-width="1.4" fill="none"/>
<polygon points="706.7,1012.4 711.3,1006.6 720.8,1001.4 729.9,1006.1 734.9,1012.8 735.8,1016.9 731.6,1026.5 719.1,1035.6 705.9,1027.3 704.2,1022.3 705,1018.2" stroke-width="1.4" fill="#fefefe"/>
<polyline points="711.3,1006.6 718.3,1012.4 729.9,1006.1" stroke-width="1.1" fill="none"/>
<polyline points="718.3,1012.4 712.5,1027.3 719.1,1035.6" stroke-width="1.1" fill="none"/>
<polyline points="704.2,1022.3 712.5,1027.3" stroke-width="1.1" fill="none"/>
<ellipse cx="725.4" cy="1021.5" rx="5" ry="7" transform="rotate(15 725.4 1021.5)" stroke-width="1.3" fill="none" />
<polyline points="725.8,1022.8 766,1045.8" stroke-width="1.4" fill="none"/>
<polygon points="769.8,1080.6 768.6,1079.8 767.6,1078.8 766.6,1077.6 765.8,1076.3 765.1,1074.9 764.5,1073.2 764.1,1071.5 763.9,1069.7 763.8,1067.7 763.8,1065.7 764,1063.6 764.4,1061.4 764.9,1059.3 765.5,1057.1 766.3,1054.8 767.2,1052.6 768.2,1050.5 769.4,1048.3 770.7,1046.3 772,1044.3 773.5,1042.4 775,1040.6 776.6,1039 778.2,1037.5 779.9,1036.1 781.6,1034.9 783.4,1033.8 785.1,1032.9 786.8,1032.2 788.5,1031.7 790.2,1031.4 791.8,1031.2 793.4,1031.3 794.8,1031.5 796.2,1032 797.5,1032.6 808.9,1039 810,1039.8 811.1,1040.8 812.1,1042 812.9,1043.3 813.6,1044.7 814.1,1046.3 814.5,1048.1 814.8,1049.9 814.9,1051.9 814.8,1053.9 814.6,1056 814.3,1058.2 813.8,1060.3 813.2,1062.5 812.4,1064.8 811.5,1067 810.4,1069.1 809.3,1071.2 808,1073.3 806.7,1075.3 805.2,1077.2 803.7,1079 802.1,1080.6 800.5,1082.1 798.8,1083.5 797,1084.7 795.3,1085.8 793.6,1086.7 791.9,1087.4 790.2,1087.9 788.5,1088.2 786.9,1088.4 785.3,1088.3 783.8,1088.1 782.4,1087.6 781.1,1087" stroke-width="1.4" fill="#fefefe"/>
<ellipse cx="795" cy="1063" rx="16.5" ry="27.7" transform="rotate(30 795 1063)" stroke-width="1.4" fill="#fefefe" />
<ellipse cx="795.6" cy="1063.2" rx="14.5" ry="25" transform="rotate(30 795.6 1063.2)" stroke-width="1.0" fill="none" />
<ellipse cx="796.2" cy="1063.2" rx="12" ry="21" transform="rotate(30 796.2 1063.2)" stroke-width="1.1" fill="none" />
<ellipse cx="796.8" cy="1063" rx="9" ry="15.8" transform="rotate(30 796.8 1063)" stroke-width="1.0" fill="none" />
<ellipse cx="797.2" cy="1062.8" rx="6.5" ry="11.5" transform="rotate(30 797.2 1062.8)" stroke-width="1.2" fill="none" />
<polyline points="796.5,1063.3 843,1090" stroke-width="1.4" fill="none"/>
<polygon points="837.2,1103 836.8,1102.6 836.4,1102.2 836,1101.8 835.7,1101.2 835.4,1100.7 835.2,1100 835.1,1099.3 835,1098.5 835,1097.7 835,1096.9 835.1,1096.1 835.2,1095.2 835.5,1094.3 835.7,1093.4 836.1,1092.4 836.5,1091.5 836.9,1090.6 837.4,1089.8 837.9,1088.9 838.5,1088.1 839.1,1087.3 839.7,1086.5 840.3,1085.8 841,1085.2 841.7,1084.6 842.4,1084.1 843.1,1083.7 843.8,1083.3 844.5,1083 845.2,1082.8 845.8,1082.6 846.5,1082.5 847.1,1082.5 847.7,1082.6 848.2,1082.8 848.8,1083 861.8,1090 862.2,1090.4 862.6,1090.8 863,1091.2 863.3,1091.8 863.6,1092.3 863.8,1093 863.9,1093.7 864,1094.5 864,1095.3 864,1096.1 863.9,1096.9 863.8,1097.8 863.5,1098.7 863.3,1099.6 862.9,1100.6 862.5,1101.5 862.1,1102.4 861.6,1103.2 861.1,1104.1 860.5,1104.9 859.9,1105.7 859.3,1106.5 858.7,1107.2 858,1107.8 857.3,1108.4 856.6,1108.9 855.9,1109.3 855.2,1109.7 854.5,1110 853.8,1110.2 853.2,1110.4 852.5,1110.5 851.9,1110.5 851.3,1110.4 850.8,1110.2 850.2,1110" stroke-width="1.3" fill="#fefefe"/>
<ellipse cx="856" cy="1100" rx="6.5" ry="11.5" transform="rotate(30 856 1100)" stroke-width="1.3" fill="#fefefe" />
<polyline points="846,1084 859,1091" stroke-width="1.0" fill="none"/>
<polyline points="843,1104 855,1111" stroke-width="1.0" fill="none"/>
<polygon points="849.8,1107.1 849.3,1106.8 848.9,1106.4 848.6,1106 848.3,1105.5 848,1105 847.9,1104.4 847.7,1103.7 847.6,1103 847.6,1102.3 847.6,1101.5 847.7,1100.8 847.9,1099.9 848.1,1099.1 848.3,1098.3 848.6,1097.5 849,1096.6 849.4,1095.8 849.8,1095 850.3,1094.2 850.8,1093.5 851.3,1092.7 851.9,1092.1 852.5,1091.4 853.1,1090.9 853.8,1090.3 854.4,1089.9 855,1089.4 855.7,1089.1 856.3,1088.8 856.9,1088.6 857.6,1088.5 858.2,1088.4 858.7,1088.4 859.3,1088.5 859.8,1088.7 860.2,1088.9 879.2,1099.4 879.7,1099.7 880.1,1100.1 880.4,1100.5 880.7,1101 881,1101.5 881.1,1102.1 881.3,1102.8 881.4,1103.5 881.4,1104.2 881.4,1105 881.3,1105.7 881.1,1106.6 880.9,1107.4 880.7,1108.2 880.4,1109 880,1109.9 879.6,1110.7 879.2,1111.5 878.7,1112.3 878.2,1113 877.7,1113.8 877.1,1114.4 876.5,1115.1 875.9,1115.6 875.2,1116.2 874.6,1116.6 874,1117.1 873.3,1117.4 872.7,1117.7 872.1,1117.9 871.4,1118 870.8,1118.1 870.3,1118.1 869.7,1118 869.2,1117.8 868.8,1117.6" stroke-width="1.3" fill="#fefefe"/>
<ellipse cx="874" cy="1108.5" rx="6" ry="10.5" transform="rotate(30 874 1108.5)" stroke-width="1.3" fill="#fefefe" />
<polygon points="865.9,1130.7 864.9,1130 864,1129.2 863.1,1128.2 862.4,1127.1 861.9,1125.9 861.4,1124.5 861,1123.1 860.8,1121.5 860.7,1119.9 860.7,1118.2 860.9,1116.4 861.2,1114.6 861.6,1112.8 862.1,1110.9 862.8,1109.1 863.5,1107.2 864.4,1105.4 865.4,1103.6 866.4,1101.9 867.6,1100.2 868.8,1098.7 870.1,1097.2 871.4,1095.8 872.8,1094.5 874.2,1093.4 875.7,1092.3 877.1,1091.5 878.6,1090.7 880,1090.1 881.5,1089.7 882.9,1089.4 884.2,1089.3 885.6,1089.4 886.8,1089.6 888,1090 889.1,1090.5 907.8,1101.1 908.8,1101.8 909.7,1102.6 910.5,1103.6 911.2,1104.7 911.8,1105.9 912.3,1107.3 912.7,1108.8 912.9,1110.3 913,1111.9 912.9,1113.6 912.8,1115.4 912.5,1117.2 912.1,1119.1 911.6,1120.9 910.9,1122.8 910.2,1124.6 909.3,1126.4 908.3,1128.2 907.3,1129.9 906.1,1131.6 904.9,1133.2 903.6,1134.6 902.3,1136 900.9,1137.3 899.5,1138.5 898,1139.5 896.6,1140.4 895.1,1141.1 893.7,1141.7 892.2,1142.1 890.8,1142.4 889.4,1142.5 888.1,1142.4 886.9,1142.2 885.7,1141.8 884.6,1141.3" stroke-width="1.4" fill="#fefefe"/>
<ellipse cx="896.2" cy="1121.2" rx="14" ry="23.2" transform="rotate(30 896.2 1121.2)" stroke-width="1.4" fill="#fefefe" />
<ellipse cx="896.8" cy="1121.5" rx="11.5" ry="20" transform="rotate(30 896.8 1121.5)" stroke-width="1.1" fill="none" />
<polyline points="897,1121 915,1131.3" stroke-width="1.5" fill="none"/>
<path d="M541.9,1040.7 L585.9,1004.9 Q589,1003 591.9,1004.9 L616.1,1038.5 L616.3,1309.8 L579,1333.1 L534.9,1263.3" stroke-width="1.4" fill="none" />
<polyline points="543.5,1042.3 583.7,1008.2 587,1006.6" stroke-width="1.1" fill="none"/>
<polyline points="536.8,1265.3 577.5,1331.2" stroke-width="1.1" fill="none"/>
<polyline points="541.3,1041.8 537.5,1105.6" stroke-width="1.4" fill="none"/>
<polyline points="545.2,1044 541.9,1096.8" stroke-width="1.1" fill="none"/>
<polyline points="533.1,1159.5 529.1,1247.8" stroke-width="1.4" fill="none"/>
<polyline points="536.4,1159.5 532,1250.7" stroke-width="1.1" fill="none"/>
<polyline points="543.6,1278.8 543.6,1303 550.4,1306 556.2,1303 556.2,1290" stroke-width="1.2" fill="none"/>
<polyline points="549.9,1291.4 549.9,1303" stroke-width="1.1" fill="none"/>
<path d="M554,1040.7 L587,1061 L580.4,1070.4 L548.5,1051.7 Q545,1044 554,1040.7 Z" stroke-width="1.3" fill="#fefefe" />
<ellipse cx="584" cy="1066" rx="4.2" ry="6.2" transform="rotate(25 584 1066)" stroke-width="1.3" fill="#fefefe" />
<polygon points="546.9,1167.7 544.3,1166 541.9,1163.8 539.8,1161.4 538,1158.5 536.4,1155.4 535.2,1152 534.2,1148.3 533.6,1144.4 533.3,1140.3 533.3,1136 533.7,1131.6 534.4,1127 535.4,1122.4 536.7,1117.8 538.3,1113.1 540.1,1108.5 542.3,1103.9 544.7,1099.5 547.3,1095.2 550.2,1091 553.3,1087.1 556.5,1083.4 559.9,1080 563.4,1076.8 567,1073.9 570.6,1071.4 574.3,1069.3 578,1067.4 581.7,1066 585.4,1065 589,1064.4 592.5,1064.1 595.8,1064.3 599,1064.9 602,1065.9 604.9,1067.3 611,1070.7 613.6,1072.5 615.9,1074.6 618,1077.1 619.9,1079.9 621.4,1083 622.7,1086.4 623.6,1090.1 624.2,1094 624.5,1098.2 624.5,1102.4 624.1,1106.9 623.5,1111.4 622.5,1116 621.2,1120.7 619.6,1125.3 617.7,1129.9 615.5,1134.5 613.1,1138.9 610.5,1143.3 607.6,1147.4 604.6,1151.3 601.3,1155 598,1158.5 594.5,1161.6 590.9,1164.5 587.2,1167 583.5,1169.2 579.8,1171 576.1,1172.4 572.4,1173.4 568.9,1174.1 565.4,1174.3 562,1174.1 558.8,1173.5 555.8,1172.6 553,1171.2" stroke-width="1.4" fill="#fefefe"/>
<ellipse cx="582" cy="1120.9" rx="36" ry="58" transform="rotate(30 582 1120.9)" stroke-width="1.4" fill="#fefefe" />
<polygon points="553,1171.2 550.4,1169.4 548,1167.3 545.9,1164.8 544,1162 542.5,1158.9 541.3,1155.4 540.3,1151.8 539.7,1147.9 539.4,1143.7 539.4,1139.4 539.8,1135 540.5,1130.5 541.5,1125.9 542.7,1121.2 544.3,1116.6 546.2,1111.9 548.4,1107.4 550.8,1102.9 553.4,1098.6 556.3,1094.5 559.4,1090.6 562.6,1086.8 566,1083.4 569.5,1080.2 573.1,1077.4 576.7,1074.9 580.4,1072.7 584.1,1070.9 587.8,1069.5 591.5,1068.4 595.1,1067.8 598.6,1067.6 601.9,1067.8 605.1,1068.4 608.1,1069.3 611,1070.7 627.5,1080.1 630.1,1081.8 632.5,1084 634.6,1086.4 636.4,1089.3 638,1092.4 639.2,1095.8 640.1,1099.5 640.8,1103.4 641.1,1107.5 641,1111.8 640.7,1116.2 640,1120.8 639,1125.4 637.7,1130 636.1,1134.7 634.2,1139.3 632.1,1143.9 629.7,1148.3 627,1152.6 624.2,1156.7 621.1,1160.7 617.9,1164.4 614.5,1167.8 611,1171 607.4,1173.9 603.7,1176.4 600,1178.5 596.3,1180.3 592.6,1181.8 589,1182.8 585.4,1183.4 581.9,1183.7 578.6,1183.5 575.4,1182.9 572.3,1181.9 569.5,1180.5" stroke-width="1.4" fill="#fefefe"/>
<ellipse cx="598.5" cy="1130.3" rx="36" ry="58" transform="rotate(30 598.5 1130.3)" stroke-width="1.4" fill="#fefefe" />
<polyline points="567.6,1175.5 565,1172.3 562.9,1168.5 561.2,1164.2 560.2,1159.5 559.6,1154.4 559.6,1149 560.2,1143.3 561.2,1137.5 562.8,1131.6 564.9,1125.6 567.5,1119.8 570.6,1114.1 574,1108.6 577.7,1103.5 581.8,1098.7 586.1,1094.3 590.6,1090.5 595.3,1087.2 600,1084.5 604.7,1082.4 609.3,1081 613.8,1080.2 618.1,1080.2 622.2,1080.8" stroke-width="1.0" fill="none"/>
<polygon points="589.8,1149.8 588.9,1149.2 588.1,1148.5 587.4,1147.6 586.8,1146.7 586.3,1145.6 585.9,1144.4 585.7,1143.1 585.5,1141.8 585.4,1140.3 585.5,1138.8 585.6,1137.3 585.9,1135.7 586.3,1134.1 586.7,1132.5 587.3,1130.8 588,1129.2 588.8,1127.6 589.6,1126 590.6,1124.5 591.6,1123 592.6,1121.6 593.8,1120.3 594.9,1119.1 596.1,1118 597.4,1116.9 598.6,1116 599.9,1115.2 601.2,1114.6 602.5,1114 603.7,1113.7 604.9,1113.4 606.1,1113.3 607.2,1113.3 608.3,1113.5 609.3,1113.8 610.3,1114.3 613.8,1116.2 614.6,1116.8 615.4,1117.6 616.1,1118.4 616.7,1119.4 617.2,1120.4 617.6,1121.6 617.9,1122.9 618,1124.3 618.1,1125.7 618,1127.2 617.9,1128.7 617.6,1130.3 617.3,1131.9 616.8,1133.6 616.2,1135.2 615.5,1136.8 614.7,1138.4 613.9,1140 613,1141.5 612,1143 610.9,1144.4 609.8,1145.7 608.6,1146.9 607.4,1148.1 606.1,1149.1 604.9,1150 603.6,1150.8 602.3,1151.5 601.1,1152 599.8,1152.4 598.6,1152.6 597.4,1152.7 596.3,1152.7 595.2,1152.5 594.2,1152.2 593.2,1151.8" stroke-width="1.3" fill="#fefefe"/>
<ellipse cx="603.5" cy="1134" rx="12" ry="20.5" transform="rotate(30 603.5 1134)" stroke-width="1.3" fill="#fefefe" />
<polygon points="614.1,1140.6 604.5,1149 597.4,1145 599.9,1132.4 609.5,1124 616.6,1128" stroke-width="1.3" fill="#fefefe"/>
<polygon points="600.2,1142.7 599.9,1142.4 599.5,1142.1 599.2,1141.7 599,1141.3 598.8,1140.8 598.6,1140.3 598.5,1139.8 598.4,1139.2 598.4,1138.6 598.4,1137.9 598.4,1137.3 598.5,1136.6 598.7,1135.9 598.9,1135.2 599.2,1134.5 599.4,1133.8 599.8,1133.1 600.1,1132.4 600.5,1131.8 601,1131.2 601.4,1130.6 601.9,1130 602.4,1129.5 602.9,1129 603.5,1128.5 604,1128.1 604.6,1127.8 605.1,1127.5 605.7,1127.3 606.2,1127.1 606.7,1127 607.2,1127 607.7,1127 608.2,1127.1 608.6,1127.2 609,1127.4 613.4,1129.9 613.8,1130.1 614.1,1130.4 614.4,1130.8 614.7,1131.2 614.9,1131.7 615.1,1132.2 615.2,1132.7 615.3,1133.3 615.3,1133.9 615.3,1134.6 615.2,1135.3 615.1,1135.9 614.9,1136.6 614.7,1137.3 614.5,1138 614.2,1138.7 613.9,1139.4 613.5,1140.1 613.1,1140.8 612.7,1141.4 612.2,1142 611.7,1142.5 611.2,1143.1 610.7,1143.6 610.2,1144 609.6,1144.4 609.1,1144.7 608.5,1145 608,1145.2 607.4,1145.4 606.9,1145.5 606.4,1145.6 605.9,1145.5 605.4,1145.5 605,1145.3 604.6,1145.1" stroke-width="1.2" fill="#fefefe"/>
<ellipse cx="609" cy="1137.5" rx="5.2" ry="8.8" transform="rotate(30 609 1137.5)" stroke-width="1.2" fill="#fefefe" />
<ellipse cx="610.6" cy="1138.5" rx="2.6" ry="4.6" transform="rotate(30 610.6 1138.5)" stroke-width="1.1" fill="none" />
<ellipse cx="527.6" cy="1165" rx="4" ry="6" transform="rotate(20 527.6 1165)" stroke-width="1.3" fill="#fefefe" />
<polyline points="528,1159 536,1159.5" stroke-width="1.1" fill="none"/>
<ellipse cx="547.4" cy="1176" rx="5" ry="7" transform="rotate(20 547.4 1176)" stroke-width="1.3" fill="#fefefe" />
<polyline points="548,1169 557.3,1172.7" stroke-width="1.1" fill="none"/>
<path d="M528.1,1246.9 L569.8,1269.1 L564,1279.8 L523.3,1256.6 Q522,1250 528.1,1246.9 Z" stroke-width="1.3" fill="#fefefe" />
<ellipse cx="566.6" cy="1274.5" rx="4.5" ry="6.3" transform="rotate(25 566.6 1274.5)" stroke-width="1.3" fill="#fefefe" />
<ellipse cx="593.9" cy="1232.3" rx="10" ry="10.5" stroke-width="1.3" fill="#fefefe" />
<polygon points="605.9,1232.3 601.4,1240.5 592.4,1240.5 587.9,1232.3 592.4,1224.1 601.4,1224.1" stroke-width="1.3" fill="#fefefe"/>
<ellipse cx="593.9" cy="1286.6" rx="10" ry="10.5" stroke-width="1.3" fill="#fefefe" />
<polygon points="605.9,1286.6 601.4,1294.8 592.4,1294.8 587.9,1286.6 592.4,1278.4 601.4,1278.4" stroke-width="1.3" fill="#fefefe"/>
<ellipse cx="594.5" cy="1259.5" rx="14.5" ry="15" stroke-width="1.3" fill="#fefefe" />
<ellipse cx="601.3" cy="1261.4" rx="10" ry="13" transform="rotate(10 601.3 1261.4)" stroke-width="1.3" fill="#fefefe" />
<path d="M598,1256 L604,1253 L607,1258 L605,1266 L600,1268 Z" stroke-width="1.1" fill="none" />
<polyline points="617.2,1234 617.2,1246" stroke-width="2.0" fill="none"/>
<polyline points="612,1140 640,1156" stroke-width="1.5" fill="none"/>
<path d="M1089.8,1113.5 C1095.7,1112.4 1101.2,1112.8 1106.4,1114 C1111.6,1115.2 1116.8,1118 1121,1120.8 C1125.2,1123.6 1128.3,1126.9 1131.4,1131.1 C1134.5,1135.2 1137.6,1140.5 1139.7,1145.7 C1141.8,1150.9 1142.2,1153.2 1143.8,1162.3 C1145.3,1171.3 1146.6,1185.7 1149,1200 C1151.4,1214.3 1154.9,1231.3 1158,1248 C1161.1,1264.7 1164.8,1284.7 1167.6,1300 C1170.4,1315.3 1173.4,1330.7 1175,1340 C1176.6,1349.3 1176.8,1349.3 1177,1356 C1177.2,1362.7 1177.5,1369.3 1176,1380 C1174.5,1390.7 1171.7,1408.3 1168,1420 C1164.3,1431.7 1160.3,1438.7 1154,1450 C1147.7,1461.3 1139,1477 1130,1488 C1121,1499 1111.7,1507.7 1100,1516 C1088.3,1524.3 1071.3,1533.3 1060,1538 C1048.7,1542.7 1039.3,1543.3 1032,1544 C1024.7,1544.7 1021.3,1544.3 1016,1542 C1010.7,1539.7 1005,1534.3 1000,1530 C995,1525.7 989.8,1520.5 986,1516 C982.2,1511.5 981.7,1515.7 977,1503 C972.3,1490.3 964.3,1460.5 958,1440 C951.7,1419.5 943.6,1394.1 939.4,1380 C935.2,1365.9 933.8,1361.8 932.7,1355.4 C931.6,1349 932.1,1346.4 932.7,1341.5 C933.4,1336.6 933.6,1332.9 936.6,1326 C939.6,1319.1 940.6,1316.5 950.5,1300 C960.4,1283.5 981.1,1251 996,1227 C1010.9,1203 1030.1,1171.5 1040,1156 C1049.9,1140.5 1050.4,1140.2 1055.6,1134.3 C1060.8,1128.4 1065.4,1124.3 1071.1,1120.8 C1076.8,1117.3 1083.9,1114.6 1089.8,1113.5Z" stroke-width="1.5" fill="none"/>
<path d="M1113.7,1119.7 C1112.7,1119.3 1111.1,1117.8 1107.5,1117.6 C1103.9,1117.4 1098,1117 1091.9,1118.7 C1085.8,1120.4 1077.1,1123.5 1071.1,1128 C1065,1132.5 1060.8,1138.2 1055.6,1145.7 C1050.4,1153.2 1049.3,1157.7 1040,1172.7 C1030.7,1187.8 1013.3,1214.8 1000,1236 C986.7,1257.2 969.6,1285.2 960.4,1300 C951.2,1314.8 948.4,1317.5 944.9,1324.9 C941.4,1332.3 940.3,1338.8 939.4,1344.3 C938.5,1349.8 938.9,1352.1 939.7,1358.1 C940.5,1364 940.5,1366.3 944.4,1380 C948.3,1393.7 956.7,1420 963,1440 C969.3,1460 977.2,1487 982,1500 C986.8,1513 988.2,1512.7 992,1518 C995.8,1523.3 1000,1528.2 1005,1532 C1010,1535.8 1019.2,1539.5 1022,1541" stroke-width="1.1" fill="none"/>
<path d="M1102.3,1134.8 C1106.4,1134.4 1109.3,1135.4 1111.6,1136.9 C1113.8,1138.4 1114.6,1138.7 1115.8,1143.6 C1117,1148.5 1117.4,1157 1118.9,1166.4 C1120.5,1175.8 1122.1,1182.7 1125.1,1200 C1128.1,1217.3 1132.8,1246.7 1137,1270 C1141.2,1293.3 1147.4,1324.7 1150,1340 C1152.6,1355.3 1152.2,1354.7 1152.5,1362 C1152.8,1369.3 1153.4,1375 1152,1384 C1150.6,1393 1148,1405.7 1144,1416 C1140,1426.3 1134,1436 1128,1446 C1122,1456 1116,1466.7 1108,1476 C1100,1485.3 1089.7,1495.3 1080,1502 C1070.3,1508.7 1059,1512.8 1050,1516 C1041,1519.2 1031.3,1520.5 1026,1521 C1020.7,1521.5 1021,1520.8 1018,1519 C1015,1517.2 1011,1513.2 1008,1510 C1005,1506.8 1002.7,1505.7 1000,1500 C997.3,1494.3 995.7,1488 992,1476 C988.3,1464 982.7,1444 978,1428 C973.3,1412 967.3,1392.1 963.7,1380 C960.1,1367.9 957.8,1361.8 956.5,1355.4 C955.2,1349 955.1,1346.6 956,1341.5 C956.9,1336.4 958.6,1331.8 962.1,1324.9 C965.6,1318 969.4,1312.5 977,1300 C984.6,1287.5 997.5,1266.9 1008,1250 C1018.5,1233.1 1032.1,1212.3 1040,1198.6 C1047.9,1184.8 1050.4,1175.8 1055.6,1167.5 C1060.8,1159.2 1065.9,1153.5 1071.1,1148.8 C1076.3,1144.1 1081.5,1141.7 1086.7,1139.4 C1091.9,1137.1 1098.2,1135.2 1102.3,1134.8Z" stroke-width="1.5" fill="none"/>
<polygon points="1203.3,1266.4 1201.7,1265.3 1200.3,1264 1199,1262.4 1197.9,1260.7 1197,1258.7 1196.3,1256.5 1195.8,1254.1 1195.5,1251.6 1195.4,1249 1195.5,1246.2 1195.8,1243.4 1196.3,1240.4 1197,1237.4 1197.9,1234.4 1199,1231.4 1200.2,1228.4 1201.7,1225.4 1203.2,1222.5 1205,1219.7 1206.8,1217 1208.8,1214.4 1210.9,1211.9 1213.1,1209.6 1215.3,1207.5 1217.6,1205.6 1219.9,1203.9 1222.3,1202.5 1224.6,1201.2 1226.9,1200.2 1229.2,1199.5 1231.5,1199 1233.6,1198.8 1235.7,1198.9 1237.7,1199.2 1239.6,1199.8 1241.3,1200.6 1282.3,1222.3 1283.9,1223.4 1285.3,1224.7 1286.6,1226.3 1287.6,1228 1288.5,1230 1289.3,1232.2 1289.8,1234.5 1290.1,1237.1 1290.2,1239.7 1290.1,1242.5 1289.8,1245.3 1289.3,1248.3 1288.6,1251.3 1287.7,1254.3 1286.6,1257.3 1285.3,1260.3 1283.9,1263.3 1282.3,1266.2 1280.6,1269 1278.7,1271.7 1276.8,1274.3 1274.7,1276.8 1272.5,1279.1 1270.3,1281.2 1268,1283.1 1265.7,1284.8 1263.3,1286.2 1261,1287.5 1258.6,1288.5 1256.3,1289.2 1254.1,1289.7 1251.9,1289.9 1249.8,1289.8 1247.9,1289.5 1246,1288.9 1244.3,1288.1" stroke-width="1.4" fill="#fefefe"/>
<ellipse cx="1263.3" cy="1255.2" rx="22" ry="38" transform="rotate(30 1263.3 1255.2)" stroke-width="1.4" fill="#fefefe" />
<polyline points="1202.4,1217 1180,1204.7" stroke-width="1.5" fill="none"/>
<polygon points="1228.5,1311.4 1225.6,1309.4 1223,1307 1220.7,1304.2 1218.7,1301.1 1217,1297.6 1215.6,1293.7 1214.6,1289.6 1214,1285.1 1213.7,1280.5 1213.8,1275.6 1214.2,1270.6 1215,1265.5 1216.2,1260.2 1217.7,1255 1219.5,1249.7 1221.7,1244.4 1224.1,1239.3 1226.9,1234.2 1229.9,1229.3 1233.1,1224.6 1236.6,1220.1 1240.3,1215.9 1244.1,1211.9 1248,1208.3 1252.1,1205 1256.2,1202.2 1260.4,1199.7 1264.5,1197.6 1268.7,1195.9 1272.8,1194.7 1276.8,1194 1280.7,1193.7 1284.4,1193.8 1288,1194.4 1291.4,1195.5 1294.5,1197.1 1298.9,1199.5 1301.8,1201.5 1304.4,1203.9 1306.7,1206.6 1308.7,1209.8 1310.4,1213.3 1311.8,1217.2 1312.8,1221.3 1313.4,1225.7 1313.7,1230.4 1313.6,1235.3 1313.2,1240.3 1312.4,1245.4 1311.2,1250.6 1309.7,1255.9 1307.9,1261.2 1305.7,1266.4 1303.3,1271.6 1300.5,1276.7 1297.5,1281.6 1294.3,1286.3 1290.8,1290.8 1287.1,1295 1283.3,1299 1279.4,1302.6 1275.3,1305.8 1271.2,1308.7 1267,1311.2 1262.9,1313.3 1258.7,1315 1254.6,1316.2 1250.6,1316.9 1246.7,1317.2 1243,1317.1 1239.4,1316.4 1236,1315.4 1232.9,1313.8" stroke-width="1.4" fill="#fefefe"/>
<ellipse cx="1265.9" cy="1256.7" rx="40" ry="66" transform="rotate(30 1265.9 1256.7)" stroke-width="1.4" fill="#fefefe" />
<polygon points="1232.9,1313.8 1230,1311.9 1227.4,1309.5 1225,1306.7 1223,1303.5 1221.3,1300 1220,1296.2 1219,1292 1218.3,1287.6 1218.1,1282.9 1218.1,1278.1 1218.6,1273.1 1219.4,1267.9 1220.5,1262.7 1222,1257.4 1223.9,1252.1 1226,1246.9 1228.5,1241.7 1231.2,1236.7 1234.2,1231.8 1237.5,1227.1 1241,1222.6 1244.6,1218.3 1248.4,1214.4 1252.4,1210.8 1256.4,1207.5 1260.6,1204.6 1264.7,1202.1 1268.9,1200 1273,1198.4 1277.1,1197.2 1281.2,1196.4 1285,1196.1 1288.8,1196.3 1292.4,1196.9 1295.7,1198 1298.9,1199.5 1315,1208.6 1317.9,1210.6 1320.5,1213 1322.8,1215.8 1324.8,1218.9 1326.5,1222.4 1327.9,1226.3 1328.9,1230.4 1329.5,1234.9 1329.8,1239.5 1329.7,1244.4 1329.3,1249.4 1328.5,1254.5 1327.3,1259.8 1325.8,1265 1324,1270.3 1321.8,1275.6 1319.4,1280.7 1316.6,1285.8 1313.6,1290.7 1310.4,1295.4 1306.9,1299.9 1303.2,1304.1 1299.4,1308.1 1295.5,1311.7 1291.4,1315 1287.3,1317.8 1283.1,1320.3 1279,1322.4 1274.8,1324.1 1270.7,1325.3 1266.7,1326 1262.8,1326.3 1259.1,1326.2 1255.5,1325.5 1252.1,1324.5 1249,1322.9" stroke-width="1.19" fill="#fefefe"/>
<ellipse cx="1282" cy="1265.8" rx="40" ry="66" transform="rotate(30 1282 1265.8)" stroke-width="1.19" fill="#fefefe" />
<polygon points="1249,1322.9 1246.1,1321 1243.5,1318.6 1241.1,1315.8 1239.1,1312.7 1237.4,1309.1 1236.1,1305.3 1235.1,1301.1 1234.4,1296.7 1234.2,1292.1 1234.2,1287.2 1234.7,1282.2 1235.5,1277 1236.6,1271.8 1238.1,1266.5 1240,1261.3 1242.1,1256 1244.6,1250.8 1247.3,1245.8 1250.4,1240.9 1253.6,1236.2 1257.1,1231.7 1260.7,1227.4 1264.5,1223.5 1268.5,1219.9 1272.5,1216.6 1276.7,1213.7 1280.8,1211.2 1285,1209.1 1289.1,1207.5 1293.2,1206.3 1297.3,1205.5 1301.1,1205.2 1304.9,1205.4 1308.5,1206 1311.8,1207.1 1315,1208.6 1318.9,1210.8 1321.8,1212.8 1324.4,1215.2 1326.7,1218 1328.8,1221.1 1330.4,1224.6 1331.8,1228.5 1332.8,1232.7 1333.4,1237.1 1333.7,1241.7 1333.6,1246.6 1333.2,1251.6 1332.4,1256.7 1331.2,1262 1329.7,1267.2 1327.9,1272.5 1325.7,1277.8 1323.3,1282.9 1320.5,1288 1317.5,1292.9 1314.3,1297.6 1310.8,1302.1 1307.2,1306.3 1303.3,1310.3 1299.4,1313.9 1295.3,1317.2 1291.2,1320.1 1287.1,1322.6 1282.9,1324.6 1278.7,1326.3 1274.6,1327.5 1270.6,1328.3 1266.7,1328.6 1263,1328.4 1259.4,1327.8 1256,1326.7 1252.9,1325.2" stroke-width="1.4" fill="#fefefe"/>
<ellipse cx="1285.9" cy="1268" rx="40" ry="66" transform="rotate(30 1285.9 1268)" stroke-width="1.4" fill="#fefefe" />
<polyline points="1250.6,1319.7 1247.7,1316.1 1245.4,1311.8 1243.7,1307 1242.5,1301.7 1242,1295.9 1242,1289.7 1242.7,1283.3 1244,1276.7 1245.9,1269.9 1248.3,1263.2 1251.3,1256.5 1254.8,1250 1258.7,1243.8 1263,1237.8 1267.6,1232.4 1272.5,1227.4 1277.6,1222.9 1282.8,1219.1 1288.1,1216 1293.4,1213.6 1298.6,1211.9 1303.6,1211 1308.5,1210.9 1313,1211.5" stroke-width="1.0" fill="none"/>
<ellipse cx="1286.5" cy="1268.2" rx="10" ry="17" transform="rotate(30 1286.5 1268.2)" stroke-width="1.3" fill="none" />
<path d="M1287,1251.8 L1289,1247.5 L1292.5,1249 L1292,1252.8" stroke-width="1.1" fill="none" />
<polygon points="1251,1168 1251,1168.4 1250.9,1168.9 1250.7,1169.3 1250.5,1169.7 1250.2,1170.1 1249.8,1170.5 1249.4,1170.9 1248.9,1171.2 1248.4,1171.5 1247.8,1171.8 1247.2,1172.1 1246.5,1172.3 1245.8,1172.5 1245.1,1172.7 1244.3,1172.8 1243.6,1172.9 1242.8,1173 1242,1173 1241.2,1173 1240.4,1172.9 1239.7,1172.8 1238.9,1172.7 1238.2,1172.5 1237.5,1172.3 1236.8,1172.1 1236.2,1171.8 1235.6,1171.5 1235.1,1171.2 1234.6,1170.9 1234.2,1170.5 1233.8,1170.1 1233.5,1169.7 1233.3,1169.3 1233.1,1168.9 1233,1168.4 1233,1168 1233,1151 1233,1150.6 1233.1,1150.1 1233.3,1149.7 1233.5,1149.3 1233.8,1148.9 1234.2,1148.5 1234.6,1148.1 1235.1,1147.8 1235.6,1147.5 1236.2,1147.2 1236.8,1146.9 1237.5,1146.7 1238.2,1146.5 1238.9,1146.3 1239.7,1146.2 1240.4,1146.1 1241.2,1146 1242,1146 1242.8,1146 1243.6,1146.1 1244.3,1146.2 1245.1,1146.3 1245.8,1146.5 1246.5,1146.7 1247.2,1146.9 1247.8,1147.2 1248.4,1147.5 1248.9,1147.8 1249.4,1148.1 1249.8,1148.5 1250.2,1148.9 1250.5,1149.3 1250.7,1149.7 1250.9,1150.1 1251,1150.6 1251,1151" stroke-width="1.3" fill="#fefefe"/>
<ellipse cx="1242" cy="1151" rx="9" ry="5" stroke-width="1.3" fill="#fefefe" />
<ellipse cx="1242" cy="1151" rx="4" ry="2.6" stroke-width="1.1" fill="none" />
<polyline points="1241.8,1170 1241.8,1215.3" stroke-width="1.3" fill="none"/>
<polyline points="1238,1215 1241,1218" stroke-width="1.5" fill="none"/>
<polygon points="1168.1,1667 1162.3,1663.1 1157.1,1658.2 1152.5,1652.6 1148.5,1646.1 1145.3,1638.9 1142.7,1631 1140.8,1622.5 1139.7,1613.3 1139.3,1603.7 1139.6,1593.7 1140.7,1583.3 1142.6,1572.6 1145.1,1561.8 1148.4,1550.8 1152.3,1539.8 1156.9,1528.9 1162,1518.1 1167.8,1507.5 1174.1,1497.2 1180.8,1487.4 1188,1477.9 1195.6,1469 1203.4,1460.7 1211.6,1453.1 1219.9,1446.2 1228.3,1440 1236.9,1434.7 1245.4,1430.2 1253.9,1426.7 1262.2,1424 1270.3,1422.3 1278.2,1421.5 1285.8,1421.7 1293,1422.9 1299.8,1425 1306.1,1428 1309.6,1430 1315.3,1433.9 1320.5,1438.7 1325.1,1444.4 1329.1,1450.8 1332.4,1458.1 1334.9,1466 1336.8,1474.5 1337.9,1483.6 1338.3,1493.2 1338,1503.3 1336.9,1513.7 1335.1,1524.4 1332.5,1535.2 1329.3,1546.2 1325.3,1557.2 1320.8,1568.1 1315.6,1578.9 1309.8,1589.5 1303.6,1599.7 1296.8,1609.6 1289.6,1619 1282.1,1627.9 1274.2,1636.2 1266.1,1643.9 1257.7,1650.8 1249.3,1656.9 1240.8,1662.3 1232.2,1666.7 1223.8,1670.3 1215.4,1673 1207.3,1674.7 1199.4,1675.5 1191.8,1675.3 1184.6,1674.1 1177.9,1672 1171.6,1669" stroke-width="1.4" fill="#fefefe"/>
<ellipse cx="1240.6" cy="1549.5" rx="80" ry="138" transform="rotate(30 1240.6 1549.5)" stroke-width="1.4" fill="#fefefe" />
<polygon points="1171.6,1669 1165.8,1665 1160.6,1660.2 1156,1654.6 1152,1648.1 1148.7,1640.9 1146.2,1633 1144.3,1624.4 1143.2,1615.3 1142.8,1605.7 1143.1,1595.6 1144.2,1585.2 1146.1,1574.6 1148.6,1563.7 1151.8,1552.8 1155.8,1541.8 1160.3,1530.8 1165.5,1520 1171.3,1509.5 1177.5,1499.2 1184.3,1489.3 1191.5,1479.9 1199,1471 1206.9,1462.7 1215.1,1455.1 1223.4,1448.2 1231.8,1442 1240.4,1436.7 1248.9,1432.2 1257.3,1428.6 1265.7,1426 1273.8,1424.2 1281.7,1423.5 1289.3,1423.7 1296.5,1424.8 1303.3,1426.9 1309.6,1430 1325.2,1438.8 1331,1442.8 1336.2,1447.6 1340.8,1453.2 1344.8,1459.7 1348,1466.9 1350.6,1474.8 1352.5,1483.4 1353.6,1492.5 1354,1502.1 1353.6,1512.2 1352.5,1522.5 1350.7,1533.2 1348.2,1544.1 1344.9,1555 1341,1566 1336.4,1577 1331.3,1587.8 1325.5,1598.3 1319.2,1608.6 1312.5,1618.5 1305.3,1627.9 1297.7,1636.8 1289.8,1645.1 1281.7,1652.7 1273.4,1659.6 1264.9,1665.8 1256.4,1671.1 1247.9,1675.6 1239.4,1679.2 1231.1,1681.8 1223,1683.5 1215.1,1684.3 1207.5,1684.1 1200.3,1683 1193.5,1680.9 1187.2,1677.8" stroke-width="1.19" fill="#fefefe"/>
<ellipse cx="1256.2" cy="1558.3" rx="80" ry="138" transform="rotate(30 1256.2 1558.3)" stroke-width="1.19" fill="#fefefe" />
<polygon points="1187.2,1677.8 1181.4,1673.9 1176.2,1669.1 1171.6,1663.4 1167.7,1657 1164.4,1649.7 1161.8,1641.8 1160,1633.3 1158.8,1624.2 1158.4,1614.6 1158.8,1604.5 1159.9,1594.1 1161.7,1583.4 1164.3,1572.6 1167.5,1561.6 1171.4,1550.6 1176,1539.7 1181.2,1528.9 1186.9,1518.3 1193.2,1508.1 1200,1498.2 1207.2,1488.8 1214.7,1479.9 1222.6,1471.6 1230.7,1463.9 1239,1457 1247.5,1450.9 1256,1445.5 1264.5,1441.1 1273,1437.5 1281.3,1434.8 1289.5,1433.1 1297.4,1432.3 1304.9,1432.5 1312.1,1433.7 1318.9,1435.8 1325.2,1438.8 1328.7,1440.8 1334.5,1444.7 1339.7,1449.6 1344.3,1455.2 1348.2,1461.7 1351.5,1468.9 1354.1,1476.8 1356,1485.3 1357.1,1494.5 1357.5,1504.1 1357.1,1514.1 1356,1524.5 1354.2,1535.2 1351.7,1546 1348.4,1557 1344.5,1568 1339.9,1578.9 1334.7,1589.7 1329,1600.3 1322.7,1610.6 1315.9,1620.4 1308.8,1629.9 1301.2,1638.8 1293.3,1647.1 1285.2,1654.7 1276.9,1661.6 1268.4,1667.8 1259.9,1673.1 1251.4,1677.6 1242.9,1681.1 1234.6,1683.8 1226.4,1685.5 1218.6,1686.3 1211,1686.1 1203.8,1684.9 1197,1682.8 1190.7,1679.8" stroke-width="1.4" fill="#fefefe"/>
<ellipse cx="1259.7" cy="1560.3" rx="80" ry="138" transform="rotate(30 1259.7 1560.3)" stroke-width="1.4" fill="#fefefe" />
<polyline points="1182.9,1669.9 1177.1,1662.4 1172.5,1653.5 1169,1643.3 1166.8,1632 1165.8,1619.8 1166.2,1606.8 1167.8,1593.1 1170.7,1579.1 1174.8,1564.8 1180.1,1550.4 1186.5,1536.2 1193.9,1522.3 1202.2,1508.9 1211.4,1496.3 1221.1,1484.5 1231.5,1473.8 1242.2,1464.3 1253.2,1456 1264.3,1449.2 1275.4,1443.9 1286.2,1440.2 1296.8,1438.1 1306.8,1437.7 1316.3,1439" stroke-width="1.0" fill="none"/>
<polygon points="1236.2,1588.5 1234.6,1587.4 1233.1,1586.1 1231.9,1584.6 1230.8,1582.8 1229.9,1580.8 1229.1,1578.7 1228.6,1576.3 1228.3,1573.9 1228.2,1571.2 1228.3,1568.5 1228.5,1565.7 1229,1562.8 1229.7,1559.8 1230.6,1556.8 1231.7,1553.8 1232.9,1550.9 1234.3,1547.9 1235.9,1545.1 1237.6,1542.3 1239.4,1539.6 1241.4,1537 1243.4,1534.6 1245.6,1532.4 1247.8,1530.3 1250.1,1528.4 1252.4,1526.8 1254.7,1525.3 1257,1524.1 1259.3,1523.1 1261.6,1522.4 1263.8,1522 1266,1521.8 1268.1,1521.8 1270.1,1522.2 1271.9,1522.7 1273.7,1523.6 1279.8,1527 1281.3,1528.1 1282.8,1529.4 1284,1531 1285.1,1532.7 1286,1534.7 1286.8,1536.9 1287.3,1539.2 1287.6,1541.7 1287.7,1544.3 1287.6,1547.1 1287.4,1549.9 1286.9,1552.8 1286.2,1555.7 1285.3,1558.7 1284.3,1561.7 1283,1564.7 1281.6,1567.6 1280.1,1570.5 1278.3,1573.3 1276.5,1576 1274.6,1578.5 1272.5,1580.9 1270.3,1583.2 1268.1,1585.3 1265.9,1587.1 1263.5,1588.8 1261.2,1590.2 1258.9,1591.4 1256.6,1592.4 1254.3,1593.1 1252.1,1593.6 1249.9,1593.8 1247.8,1593.7 1245.8,1593.4 1244,1592.8 1242.2,1592" stroke-width="1.3" fill="#fefefe"/>
<ellipse cx="1261" cy="1559.5" rx="22" ry="37.5" transform="rotate(30 1261 1559.5)" stroke-width="1.3" fill="#fefefe" />
<ellipse cx="1263.5" cy="1561" rx="11.5" ry="16" transform="rotate(30 1263.5 1561)" stroke-width="1.3" fill="none" />
<path d="M1251,1561.5 L1247.5,1563.5 L1249,1568.5 L1253,1567.5" stroke-width="1.1" fill="none" />
<polyline points="1262,1561 1332,1600" stroke-width="1.5" fill="none"/>
<polygon points="1332.4,1623.7 1331.6,1623.1 1331,1622.5 1330.4,1621.7 1329.9,1620.8 1329.5,1619.8 1329.2,1618.7 1329,1617.5 1328.9,1616.2 1328.9,1614.9 1329,1613.5 1329.2,1612 1329.5,1610.5 1329.9,1608.9 1330.4,1607.3 1331,1605.8 1331.7,1604.2 1332.4,1602.6 1333.3,1601.1 1334.2,1599.6 1335.2,1598.2 1336.2,1596.8 1337.3,1595.5 1338.4,1594.3 1339.5,1593.1 1340.7,1592.1 1341.8,1591.2 1343,1590.4 1344.2,1589.7 1345.4,1589.1 1346.5,1588.7 1347.6,1588.4 1348.7,1588.3 1349.7,1588.3 1350.6,1588.4 1351.5,1588.6 1352.4,1589 1357.6,1592 1358.4,1592.5 1359,1593.2 1359.6,1593.9 1360.1,1594.8 1360.5,1595.8 1360.8,1596.9 1361,1598.1 1361.1,1599.4 1361.1,1600.8 1361,1602.2 1360.8,1603.7 1360.5,1605.2 1360.1,1606.7 1359.6,1608.3 1359,1609.9 1358.3,1611.5 1357.5,1613 1356.7,1614.5 1355.8,1616 1354.8,1617.5 1353.8,1618.9 1352.7,1620.2 1351.6,1621.4 1350.5,1622.5 1349.3,1623.5 1348.1,1624.5 1347,1625.3 1345.8,1625.9 1344.6,1626.5 1343.5,1626.9 1342.4,1627.2 1341.3,1627.4 1340.3,1627.4 1339.3,1627.3 1338.4,1627 1337.6,1626.6" stroke-width="1.3" fill="#fefefe"/>
<ellipse cx="1347.6" cy="1609.3" rx="10.5" ry="20" transform="rotate(30 1347.6 1609.3)" stroke-width="1.3" fill="#fefefe" />
<ellipse cx="1348" cy="1612.4" rx="3.5" ry="6" transform="rotate(30 1348 1612.4)" stroke-width="1.2" fill="none" />
<polyline points="1348,1612.4 1365,1622" stroke-width="1.4" fill="none"/>
<polygon points="1360.9,1625.4 1360.6,1625.2 1360.4,1625 1360.2,1624.7 1360,1624.4 1359.9,1624.1 1359.8,1623.8 1359.7,1623.4 1359.6,1623 1359.6,1622.5 1359.6,1622.1 1359.7,1621.6 1359.8,1621.1 1359.9,1620.6 1360,1620.1 1360.2,1619.7 1360.4,1619.2 1360.6,1618.7 1360.9,1618.2 1361.2,1617.7 1361.5,1617.3 1361.8,1616.9 1362.1,1616.5 1362.5,1616.1 1362.8,1615.8 1363.2,1615.4 1363.6,1615.2 1364,1614.9 1364.4,1614.7 1364.8,1614.6 1365.1,1614.4 1365.5,1614.4 1365.8,1614.3 1366.2,1614.3 1366.5,1614.4 1366.8,1614.5 1367.1,1614.6 1387.1,1626.1 1387.4,1626.3 1387.6,1626.5 1387.8,1626.8 1388,1627.1 1388.1,1627.4 1388.2,1627.8 1388.3,1628.1 1388.4,1628.5 1388.4,1629 1388.4,1629.4 1388.3,1629.9 1388.2,1630.4 1388.1,1630.9 1388,1631.4 1387.8,1631.8 1387.6,1632.3 1387.4,1632.8 1387.1,1633.3 1386.8,1633.8 1386.5,1634.2 1386.2,1634.6 1385.9,1635 1385.5,1635.4 1385.2,1635.7 1384.8,1636.1 1384.4,1636.3 1384,1636.6 1383.6,1636.8 1383.2,1636.9 1382.9,1637.1 1382.5,1637.1 1382.2,1637.2 1381.8,1637.2 1381.5,1637.1 1381.2,1637 1380.9,1636.9" stroke-width="1.3" fill="#fefefe"/>
<ellipse cx="1384" cy="1631.5" rx="3.6" ry="6.2" transform="rotate(30 1384 1631.5)" stroke-width="1.3" fill="#fefefe" />
<polygon points="1381.7,1643.1 1381.2,1642.9 1380.8,1642.5 1380.5,1642.1 1380.2,1641.6 1380,1641 1379.8,1640.4 1379.6,1639.8 1379.5,1639.1 1379.5,1638.4 1379.6,1637.6 1379.6,1636.8 1379.8,1636 1380,1635.2 1380.2,1634.3 1380.5,1633.5 1380.9,1632.7 1381.3,1631.9 1381.7,1631.1 1382.2,1630.3 1382.7,1629.5 1383.2,1628.8 1383.8,1628.1 1384.4,1627.5 1385,1626.9 1385.7,1626.4 1386.3,1625.9 1386.9,1625.5 1387.6,1625.2 1388.2,1624.9 1388.9,1624.7 1389.5,1624.5 1390.1,1624.5 1390.6,1624.5 1391.2,1624.6 1391.7,1624.7 1392.2,1625 1398.2,1628.4 1398.7,1628.7 1399.1,1629.1 1399.4,1629.5 1399.7,1630 1400,1630.5 1400.1,1631.1 1400.3,1631.8 1400.4,1632.5 1400.4,1633.2 1400.4,1634 1400.3,1634.7 1400.1,1635.6 1399.9,1636.4 1399.7,1637.2 1399.4,1638 1399,1638.9 1398.6,1639.7 1398.2,1640.5 1397.7,1641.3 1397.2,1642 1396.7,1642.8 1396.1,1643.4 1395.5,1644.1 1394.9,1644.6 1394.2,1645.2 1393.6,1645.6 1393,1646.1 1392.3,1646.4 1391.7,1646.7 1391.1,1646.9 1390.4,1647 1389.8,1647.1 1389.3,1647.1 1388.7,1647 1388.2,1646.8 1387.8,1646.6" stroke-width="1.3" fill="#fefefe"/>
<polygon points="1398.2,1640.5 1391.1,1646.9 1385.9,1643.9 1387.8,1634.5 1394.9,1628.1 1400.1,1631.1" stroke-width="1.3" fill="#fefefe"/>
<polyline points="1391.1,1646.9 1385,1643.4" stroke-width="1.0" fill="none"/>
<polyline points="1385.9,1643.9 1379.8,1640.4" stroke-width="1.0" fill="none"/>
<polyline points="1400.1,1631.1 1394.1,1627.7" stroke-width="1.0" fill="none"/>
<polygon points="185,1230 238.8,1200 245,1203.8 245,1312.5 191,1341 185,1339 185,1230" stroke-width="1.5" fill="#fefefe"/>
<polyline points="191,1232.5 245,1206" stroke-width="1.1" fill="none"/>
<polyline points="191,1232.5 191,1341" stroke-width="1.2" fill="none"/>
<ellipse cx="231.9" cy="1224.4" rx="9.4" ry="13.1" transform="rotate(15 231.9 1224.4)" stroke-width="1.3" fill="none" />
<path d="M226,1218 Q224,1226 229,1234" stroke-width="1.1" fill="none" />
<ellipse cx="204" cy="1241.6" rx="5.4" ry="7.1" transform="rotate(15 204 1241.6)" stroke-width="1.3" fill="none" />
<ellipse cx="204.4" cy="1275.2" rx="5.6" ry="7.2" transform="rotate(15 204.4 1275.2)" stroke-width="1.3" fill="none" />
<ellipse cx="232.8" cy="1306.9" rx="5.2" ry="6.9" transform="rotate(15 232.8 1306.9)" stroke-width="1.3" fill="none" />
<polyline points="204,1241.6 408,1356" stroke-width="1.6" fill="none"/>
<polyline points="231.9,1224.4 290,1256" stroke-width="1.3" fill="none"/>
<polygon points="289.3,1263.9 289,1263.7 288.7,1263.5 288.5,1263.3 288.2,1263 288.1,1262.7 287.9,1262.3 287.8,1261.9 287.7,1261.5 287.6,1261 287.6,1260.6 287.6,1260.1 287.6,1259.6 287.7,1259 287.8,1258.5 288,1258 288.1,1257.4 288.3,1256.9 288.6,1256.4 288.8,1255.9 289.1,1255.4 289.4,1254.9 289.7,1254.5 290,1254.1 290.4,1253.7 290.8,1253.3 291.1,1253 291.5,1252.7 291.9,1252.5 292.3,1252.3 292.7,1252.1 293,1252 293.4,1251.9 293.8,1251.9 294.1,1251.9 294.4,1252 294.7,1252.1 310.7,1260.6 311,1260.8 311.3,1261 311.5,1261.2 311.8,1261.5 311.9,1261.8 312.1,1262.2 312.2,1262.6 312.3,1263 312.4,1263.5 312.4,1263.9 312.4,1264.4 312.4,1264.9 312.3,1265.5 312.2,1266 312,1266.5 311.9,1267.1 311.7,1267.6 311.4,1268.1 311.2,1268.6 310.9,1269.1 310.6,1269.6 310.3,1270 310,1270.4 309.6,1270.8 309.2,1271.2 308.9,1271.5 308.5,1271.8 308.1,1272 307.7,1272.2 307.3,1272.4 307,1272.5 306.6,1272.6 306.2,1272.6 305.9,1272.6 305.6,1272.5 305.3,1272.4" stroke-width="1.3" fill="#fefefe"/>
<polyline points="298.7,1254.2 299.2,1254.5 299.5,1254.9 299.9,1255.3 300.1,1255.8 300.3,1256.4 300.4,1257.1 300.4,1257.8 300.4,1258.6 300.2,1259.4 300,1260.2 299.8,1260.9 299.4,1261.7 299.1,1262.5 298.6,1263.2 298.1,1263.9 297.6,1264.5 297.1,1265 296.5,1265.4 295.9,1265.8 295.3,1266 294.8,1266.2 294.2,1266.2 293.7,1266.2 293.3,1266" stroke-width="1.0" fill="none"/>
<polyline points="302.7,1256.4 303.2,1256.6 303.5,1257 303.9,1257.4 304.1,1258 304.3,1258.6 304.4,1259.2 304.4,1259.9 304.4,1260.7 304.2,1261.5 304,1262.3 303.8,1263.1 303.4,1263.9 303.1,1264.6 302.6,1265.3 302.1,1266 301.6,1266.6 301.1,1267.1 300.5,1267.6 299.9,1267.9 299.3,1268.2 298.8,1268.3 298.2,1268.4 297.7,1268.3 297.3,1268.1" stroke-width="1.0" fill="none"/>
<polyline points="306.7,1258.5 307.2,1258.7 307.5,1259.1 307.9,1259.5 308.1,1260.1 308.3,1260.7 308.4,1261.3 308.4,1262.1 308.4,1262.8 308.2,1263.6 308,1264.4 307.8,1265.2 307.4,1266 307.1,1266.7 306.6,1267.5 306.1,1268.1 305.6,1268.7 305.1,1269.2 304.5,1269.7 303.9,1270 303.3,1270.3 302.8,1270.4 302.2,1270.5 301.7,1270.4 301.3,1270.3" stroke-width="1.0" fill="none"/>
<polygon points="303.7,1273.9 303.3,1273.6 302.9,1273.2 302.6,1272.8 302.3,1272.3 302,1271.8 301.8,1271.2 301.6,1270.6 301.5,1270 301.4,1269.3 301.4,1268.6 301.4,1267.9 301.5,1267.1 301.6,1266.4 301.8,1265.7 302,1264.9 302.3,1264.2 302.6,1263.5 302.9,1262.8 303.3,1262.1 303.7,1261.4 304.2,1260.8 304.7,1260.3 305.2,1259.7 305.7,1259.2 306.3,1258.8 306.8,1258.4 307.4,1258.1 308,1257.9 308.6,1257.7 309.1,1257.5 309.7,1257.5 310.3,1257.5 310.8,1257.5 311.3,1257.7 311.8,1257.8 312.3,1258.1 320.6,1258 321.4,1258.5 322.1,1259.1 322.7,1259.8 323.3,1260.6 323.8,1261.4 324.3,1262.4 324.6,1263.3 324.9,1264.4 325.1,1265.4 325.2,1266.5 325.2,1267.6 325.2,1268.8 325,1269.9 324.8,1271.1 324.5,1272.2 324.1,1273.4 323.6,1274.5 323.1,1275.5 322.5,1276.6 321.8,1277.6 321,1278.5 320.3,1279.3 319.4,1280.1 318.5,1280.8 317.6,1281.4 316.7,1282 315.7,1282.4 314.8,1282.8 313.8,1283 312.8,1283.2 311.8,1283.2 310.9,1283.2 309.9,1283.1 309,1282.8 308.2,1282.5 307.4,1282" stroke-width="1.3" fill="#fefefe"/>
<ellipse cx="316.9" cy="1273.8" rx="9" ry="13" transform="rotate(18 316.9 1273.8)" stroke-width="1.3" fill="#fefefe" />
<polygon points="319.9,1275 318.2,1278.5 314.8,1278.5 313.1,1275 314.8,1271.5 318.2,1271.5" stroke-width="1.1" fill="#fefefe"/>
<polyline points="232.8,1306.9 249.7,1316.1" stroke-width="1.3" fill="none"/>
<polygon points="250,1333.5 249.4,1333.1 248.8,1332.6 248.3,1331.9 247.9,1331.2 247.5,1330.4 247.2,1329.6 247,1328.6 246.9,1327.7 246.8,1326.6 246.9,1325.5 247,1324.4 247.2,1323.2 247.4,1322 247.8,1320.8 248.2,1319.6 248.7,1318.5 249.3,1317.3 249.9,1316.1 250.6,1315 251.3,1313.9 252.1,1312.9 252.9,1312 253.8,1311.1 254.7,1310.2 255.6,1309.5 256.5,1308.8 257.4,1308.2 258.4,1307.8 259.3,1307.4 260.2,1307.1 261.1,1306.9 262,1306.8 262.8,1306.8 263.6,1307 264.3,1307.2 265,1307.5 268.5,1309.5 269.1,1309.9 269.7,1310.5 270.2,1311.1 270.7,1311.8 271,1312.6 271.3,1313.5 271.5,1314.4 271.6,1315.4 271.7,1316.4 271.7,1317.5 271.5,1318.7 271.4,1319.8 271.1,1321 270.7,1322.2 270.3,1323.4 269.8,1324.6 269.2,1325.8 268.6,1326.9 267.9,1328 267.2,1329.1 266.4,1330.1 265.6,1331.1 264.7,1332 263.9,1332.8 262.9,1333.6 262,1334.2 261.1,1334.8 260.2,1335.3 259.2,1335.7 258.3,1336 257.4,1336.1 256.6,1336.2 255.7,1336.2 254.9,1336.1 254.2,1335.8 253.5,1335.5" stroke-width="1.3" fill="#fefefe"/>
<ellipse cx="261" cy="1322.5" rx="8.8" ry="15" transform="rotate(30 261 1322.5)" stroke-width="1.3" fill="#fefefe" />
<ellipse cx="261.5" cy="1322.8" rx="3.2" ry="5.6" transform="rotate(30 261.5 1322.8)" stroke-width="1.2" fill="none" />
<polyline points="261.5,1322.8 283,1335" stroke-width="1.3" fill="none"/>
<polygon points="279.6,1340.9 279.3,1340.7 279.1,1340.5 278.8,1340.2 278.6,1339.8 278.5,1339.5 278.3,1339.1 278.2,1338.7 278.2,1338.2 278.1,1337.7 278.2,1337.3 278.2,1336.7 278.3,1336.2 278.4,1335.7 278.6,1335.1 278.8,1334.6 279,1334.1 279.3,1333.5 279.5,1333 279.8,1332.5 280.2,1332 280.5,1331.5 280.9,1331.1 281.3,1330.7 281.7,1330.3 282.1,1330 282.5,1329.7 283,1329.4 283.4,1329.2 283.8,1329 284.2,1328.9 284.6,1328.8 285,1328.8 285.4,1328.8 285.7,1328.9 286.1,1329 286.4,1329.1 308.4,1341.6 308.7,1341.8 308.9,1342 309.2,1342.3 309.4,1342.7 309.5,1343 309.7,1343.4 309.8,1343.8 309.8,1344.3 309.9,1344.8 309.8,1345.2 309.8,1345.8 309.7,1346.3 309.6,1346.8 309.4,1347.4 309.2,1347.9 309,1348.4 308.7,1349 308.5,1349.5 308.2,1350 307.8,1350.5 307.5,1351 307.1,1351.4 306.7,1351.8 306.3,1352.2 305.9,1352.5 305.5,1352.8 305,1353.1 304.6,1353.3 304.2,1353.5 303.8,1353.6 303.4,1353.7 303,1353.7 302.6,1353.7 302.3,1353.6 301.9,1353.5 301.6,1353.4" stroke-width="1.3" fill="#fefefe"/>
<ellipse cx="305" cy="1347.5" rx="4" ry="6.8" transform="rotate(30 305 1347.5)" stroke-width="1.3" fill="#fefefe" />
<polyline points="290.5,1331.5 290.9,1331.8 291.3,1332.2 291.6,1332.7 291.8,1333.2 291.9,1333.9 292,1334.6 291.9,1335.3 291.8,1336.1 291.6,1336.9 291.4,1337.8 291,1338.6 290.6,1339.3 290.1,1340.1 289.6,1340.8 289,1341.4 288.4,1342 287.8,1342.5 287.2,1342.9 286.5,1343.2 285.9,1343.4 285.3,1343.5 284.7,1343.5 284.2,1343.4 283.7,1343.2" stroke-width="1.0" fill="none"/>
<polyline points="294.6,1333.8 295.1,1334.1 295.4,1334.5 295.7,1335 295.9,1335.6 296.1,1336.2 296.1,1336.9 296.1,1337.7 295.9,1338.5 295.8,1339.3 295.5,1340.1 295.1,1340.9 294.7,1341.7 294.2,1342.4 293.7,1343.1 293.1,1343.8 292.6,1344.4 291.9,1344.9 291.3,1345.3 290.7,1345.6 290,1345.8 289.4,1345.9 288.9,1345.9 288.3,1345.8 287.9,1345.6" stroke-width="1.0" fill="none"/>
<polyline points="298.8,1336.1 299.2,1336.5 299.6,1336.9 299.8,1337.4 300.1,1337.9 300.2,1338.6 300.2,1339.3 300.2,1340 300.1,1340.8 299.9,1341.6 299.6,1342.4 299.3,1343.2 298.8,1344 298.4,1344.8 297.8,1345.5 297.3,1346.1 296.7,1346.7 296.1,1347.2 295.4,1347.6 294.8,1347.9 294.2,1348.1 293.6,1348.2 293,1348.2 292.5,1348.1 292,1347.9" stroke-width="1.0" fill="none"/>
<polygon points="301.8,1359 301.3,1358.7 300.9,1358.3 300.5,1357.8 300.1,1357.3 299.8,1356.6 299.6,1356 299.4,1355.3 299.3,1354.5 299.3,1353.7 299.3,1352.9 299.4,1352 299.6,1351.1 299.8,1350.2 300,1349.3 300.4,1348.4 300.7,1347.4 301.2,1346.5 301.6,1345.7 302.2,1344.8 302.7,1344 303.3,1343.2 304,1342.5 304.6,1341.8 305.3,1341.1 306,1340.6 306.7,1340.1 307.4,1339.6 308.2,1339.2 308.9,1339 309.6,1338.7 310.3,1338.6 310.9,1338.5 311.6,1338.6 312.2,1338.7 312.8,1338.8 313.3,1339.1 320.2,1343 320.7,1343.4 321.2,1343.8 321.6,1344.3 321.9,1344.8 322.2,1345.4 322.4,1346.1 322.6,1346.8 322.7,1347.6 322.7,1348.4 322.7,1349.2 322.6,1350.1 322.5,1351 322.3,1351.9 322,1352.8 321.7,1353.7 321.3,1354.6 320.9,1355.5 320.4,1356.4 319.9,1357.3 319.3,1358.1 318.7,1358.9 318.1,1359.6 317.4,1360.3 316.7,1360.9 316,1361.5 315.3,1362 314.6,1362.4 313.9,1362.8 313.2,1363.1 312.5,1363.3 311.8,1363.5 311.1,1363.5 310.5,1363.5 309.9,1363.4 309.3,1363.2 308.8,1363" stroke-width="1.3" fill="#fefefe"/>
<polygon points="320.4,1356.4 312.5,1363.3 306.6,1359.9 308.6,1349.6 316.5,1342.7 322.4,1346.1" stroke-width="1.3" fill="#fefefe"/>
<polyline points="312.5,1363.3 305.5,1359.4" stroke-width="1.0" fill="none"/>
<polyline points="306.6,1359.9 299.6,1356" stroke-width="1.0" fill="none"/>
<polyline points="322.4,1346.1 315.5,1342.1" stroke-width="1.0" fill="none"/>
<polyline points="926.4,89.2 926.4,166.6" stroke-width="1.3" fill="none"/>
<polyline points="856,239.5 836,255" stroke-width="1.1" fill="none"/>
<polyline points="1197.4,169.5 1198,226" stroke-width="1.3" fill="none"/>
<polyline points="1294,419.8 1294,483.9" stroke-width="1.3" fill="none"/>
<polyline points="1341.8,430.6 1341.6,471.4" stroke-width="1.3" fill="none"/>
<polyline points="79.2,743.6 79.5,820" stroke-width="1.3" fill="none"/>
<polyline points="390.8,738.6 390.5,814" stroke-width="1.3" fill="none"/>
<polyline points="483.9,792.1 484,868" stroke-width="1.3" fill="none"/>
<polyline points="560.6,856.8 561,926" stroke-width="1.3" fill="none"/>
<polyline points="651,894 651,967.5" stroke-width="1.3" fill="none"/>
<polyline points="793,962.2 793,1031" stroke-width="1.3" fill="none"/>
<polyline points="892,1022.5 892,1092.5" stroke-width="1.3" fill="none"/>
<polyline points="328,925 276,977" stroke-width="1.1" fill="none"/>
<polyline points="364,934 310,990" stroke-width="1.1" fill="none"/>
<polyline points="619,1227 655,1227" stroke-width="1.3" fill="none"/>
<polyline points="305.5,1205 305.5,1259" stroke-width="1.3" fill="none"/>
<polyline points="129.5,1261 184,1261" stroke-width="1.3" fill="none"/>
<polyline points="255,1344 255,1391" stroke-width="1.3" fill="none"/>
<polyline points="310.5,1365 310.5,1411" stroke-width="1.3" fill="none"/>
<polyline points="1205,1155.6 1233,1155.6" stroke-width="1.3" fill="none"/>
<polyline points="1276.4,1128 1276.4,1194" stroke-width="1.3" fill="none"/>
<polyline points="1005.7,1538 1005.7,1610.5" stroke-width="1.3" fill="none"/>
<polyline points="1217,1685.7 1217,1725" stroke-width="1.3" fill="none"/>
<polyline points="1336.4,1628 1336.4,1730.7" stroke-width="1.3" fill="none"/>
<polyline points="1389,1540 1389,1624" stroke-width="1.3" fill="none"/>
</g>
<g font-family="Liberation Sans" font-weight="bold" font-size="28" text-anchor="middle" fill="#000" style="opacity:0.99">
<text x="924.7" y="81.7" transform="translate(0 81.7) scale(1 1.1) translate(0 -81.7)">23</text>
<text x="873.8" y="235.8" transform="translate(0 235.8) scale(1 1.1) translate(0 -235.8)">23</text>
<text x="1197" y="161.7" transform="translate(0 161.7) scale(1 1.1) translate(0 -161.7)">13</text>
<text x="1299.8" y="515.1" transform="translate(0 515.1) scale(1 1.1) translate(0 -515.1)">14</text>
<text x="1340.3" y="499.9" transform="translate(0 499.9) scale(1 1.1) translate(0 -499.9)">8</text>
<text x="79.6" y="732.4" transform="translate(0 732.4) scale(1 1.1) translate(0 -732.4)">3</text>
<text x="389.7" y="730.2" transform="translate(0 730.2) scale(1 1.1) translate(0 -730.2)">4</text>
<text x="485" y="781.3" transform="translate(0 781.3) scale(1 1.1) translate(0 -781.3)">18</text>
<text x="560.9" y="845" transform="translate(0 845) scale(1 1.1) translate(0 -845)">11</text>
<text x="651.7" y="882.3" transform="translate(0 882.3) scale(1 1.1) translate(0 -882.3)">7</text>
<text x="793" y="951.3" transform="translate(0 951.3) scale(1 1.1) translate(0 -951.3)">19</text>
<text x="892.3" y="1011.9" transform="translate(0 1011.9) scale(1 1.1) translate(0 -1011.9)">9</text>
<text x="250.5" y="1002.8" transform="translate(0 1002.8) scale(1 1.1) translate(0 -1002.8)">21</text>
<text x="308.4" y="1016.4" transform="translate(0 1016.4) scale(1 1.1) translate(0 -1016.4)">15</text>
<text x="668" y="1237.8" transform="translate(0 1237.8) scale(1 1.1) translate(0 -1237.8)">2</text>
<text x="307.5" y="1194" transform="translate(0 1194) scale(1 1.1) translate(0 -1194)">16</text>
<text x="115.6" y="1269.5" transform="translate(0 1269.5) scale(1 1.1) translate(0 -1269.5)">1</text>
<text x="258.5" y="1432.5" transform="translate(0 1432.5) scale(1 1.1) translate(0 -1432.5)">21</text>
<text x="314.6" y="1453.3" transform="translate(0 1453.3) scale(1 1.1) translate(0 -1453.3)">15</text>
<text x="1186.5" y="1165.8" transform="translate(0 1165.8) scale(1 1.1) translate(0 -1165.8)">10</text>
<text x="1277.5" y="1124.4" transform="translate(0 1124.4) scale(1 1.1) translate(0 -1124.4)">6</text>
<text x="1006.7" y="1640.6" transform="translate(0 1640.6) scale(1 1.1) translate(0 -1640.6)">12</text>
<text x="1218.6" y="1755.8" transform="translate(0 1755.8) scale(1 1.1) translate(0 -1755.8)">5</text>
<text x="1338.2" y="1759.1" transform="translate(0 1759.1) scale(1 1.1) translate(0 -1759.1)">20</text>
<text x="1391" y="1526.8" transform="translate(0 1526.8) scale(1 1.1) translate(0 -1526.8)">22</text>
</g>
</svg>
</body></html>
